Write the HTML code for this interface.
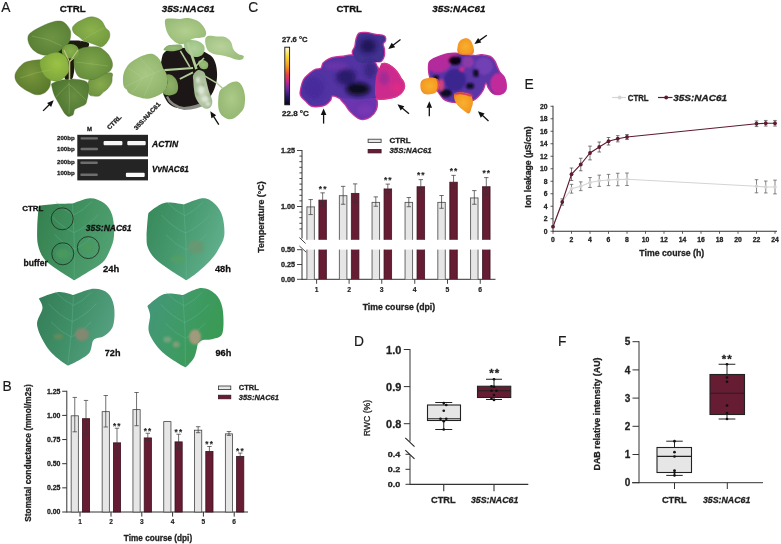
<!DOCTYPE html>
<html><head><meta charset="utf-8"><style>
html,body{margin:0;padding:0;background:#fff;}
svg{display:block;font-family:"Liberation Sans", sans-serif;will-change:transform;filter:blur(0.25px);}
</style></head><body>
<svg width="781" height="544" viewBox="0 0 781 544">
<rect width="781" height="544" fill="#fff"/>
<defs><filter id="soft" x="-5%" y="-5%" width="110%" height="110%"><feGaussianBlur stdDeviation="0.45"/></filter></defs>
<text x="1.2" y="11.8" font-size="13.8" font-weight="normal" font-style="normal" text-anchor="start" fill="#1a1a1a" stroke="#1a1a1a" stroke-width="0.15" >A</text>
<text x="72.7" y="12.0" font-size="9.8" font-weight="bold" font-style="normal" text-anchor="middle" fill="#111" stroke="#111" stroke-width="0.28" textLength="26" lengthAdjust="spacingAndGlyphs" >CTRL</text>
<text x="188.2" y="12.3" font-size="9.8" font-weight="bold" font-style="italic" text-anchor="middle" fill="#111" stroke="#111" stroke-width="0.28" textLength="53" lengthAdjust="spacingAndGlyphs" >35S:NAC61</text>
<g filter="url(#soft)">
<path d="M54.0,45.0 C54.8,42.8 59.0,42.2 62.0,41.5 C65.0,40.8 68.7,40.6 72.0,40.5 C75.3,40.4 79.2,40.5 82.0,41.0 C84.8,41.5 88.3,42.0 89.0,43.5 C89.7,45.0 88.2,47.6 86.0,50.0 C83.8,52.4 78.0,54.3 76.0,58.0 C74.0,61.7 74.7,68.5 74.0,72.0 C73.3,75.5 73.3,77.7 72.0,79.0 C70.7,80.3 67.7,81.5 66.0,80.0 C64.3,78.5 63.5,74.2 62.0,70.0 C60.5,65.8 58.3,59.2 57.0,55.0 C55.7,50.8 53.2,47.2 54.0,45.0Z" fill="#1a1c10"/>
<defs><radialGradient id="g1" cx="0.55" cy="0.5" r="0.6"><stop offset="0" stop-color="#6e9444"/><stop offset="1" stop-color="#587e34"/></radialGradient></defs>
<path d="M28.2,35.8 C28.9,33.8 30.7,32.6 33.0,31.0 C35.3,29.4 39.3,27.6 41.8,26.3 C44.3,25.1 45.4,24.4 48.0,23.5 C50.6,22.6 54.6,21.1 57.4,21.0 C60.1,20.9 62.3,21.0 64.5,22.7 C66.7,24.4 69.7,27.9 70.5,31.1 C71.3,34.3 70.5,39.0 69.3,41.8 C68.1,44.6 65.7,45.8 63.3,47.8 C60.9,49.8 58.4,52.6 55.0,53.8 C51.6,55.0 46.6,55.6 43.0,55.0 C39.4,54.4 35.9,52.2 33.5,50.2 C31.1,48.2 29.6,45.4 28.7,43.0 C27.8,40.6 27.5,37.8 28.2,35.8Z" fill="url(#g1)" stroke="#4e6e2a" stroke-width="0.6" stroke-opacity="0.6"/>
<defs><radialGradient id="g2" cx="0.5" cy="0.45" r="0.6"><stop offset="0" stop-color="#8cb24c"/><stop offset="1" stop-color="#719a3e"/></radialGradient></defs>
<path d="M72.4,27.9 C72.7,26.3 74.2,24.8 75.9,23.4 C77.6,22.0 80.5,20.6 82.8,19.5 C85.1,18.4 87.6,17.3 89.8,17.0 C92.0,16.7 93.7,16.8 95.7,17.5 C97.7,18.2 100.0,19.3 101.7,21.0 C103.4,22.7 104.5,26.2 105.7,27.9 C107.0,29.6 108.5,29.9 109.2,31.4 C109.9,32.9 110.1,34.9 109.7,36.8 C109.3,38.7 108.0,41.1 106.7,42.8 C105.4,44.5 103.2,46.3 101.7,46.8 C100.2,47.3 99.7,46.5 97.7,45.8 C95.7,45.1 92.1,43.6 89.8,42.8 C87.5,42.0 85.6,41.8 83.8,40.8 C82.0,39.8 80.6,38.1 78.9,36.8 C77.2,35.5 75.0,34.4 73.9,32.9 C72.8,31.4 72.1,29.5 72.4,27.9Z" fill="url(#g2)" stroke="#4e6e2a" stroke-width="0.6" stroke-opacity="0.6"/>
<defs><radialGradient id="g3" cx="0.5" cy="0.5" r="0.6"><stop offset="0" stop-color="#86aa4c"/><stop offset="1" stop-color="#6c9240"/></radialGradient></defs>
<path d="M89.0,80.0 C90.9,76.7 96.2,75.2 100.0,74.0 C103.8,72.8 109.6,72.3 111.6,73.0 C113.6,73.7 112.1,76.4 112.1,78.0 C112.1,79.6 112.3,81.0 111.6,82.8 C110.9,84.6 109.2,87.1 107.7,88.8 C106.2,90.5 104.0,91.6 102.7,92.8 C101.4,94.0 101.0,95.1 99.7,95.7 C98.4,96.3 96.6,96.5 94.8,96.2 C93.0,95.9 89.8,96.5 88.8,93.8 C87.8,91.1 87.1,83.3 89.0,80.0Z" fill="url(#g3)" stroke="#4e6e2a" stroke-width="0.6" stroke-opacity="0.6"/>
<defs><radialGradient id="g4" cx="0.45" cy="0.5" r="0.6"><stop offset="0" stop-color="#7ea44a"/><stop offset="1" stop-color="#628a3a"/></radialGradient></defs>
<path d="M75.5,51.7 C76.8,50.0 79.7,48.8 82.0,48.0 C84.3,47.2 86.7,47.0 89.4,46.8 C92.1,46.6 95.7,46.5 98.0,47.0 C100.3,47.5 101.6,48.5 103.3,49.7 C105.0,50.9 106.6,52.3 108.0,54.0 C109.4,55.7 110.8,58.0 111.6,60.0 C112.3,62.0 112.8,64.2 112.5,66.0 C112.2,67.8 111.2,69.7 110.0,71.0 C108.8,72.3 107.1,72.6 105.3,73.6 C103.5,74.6 101.0,76.0 99.0,77.0 C97.0,78.0 95.7,79.2 93.4,79.5 C91.1,79.8 87.6,79.6 85.0,79.0 C82.4,78.4 79.8,77.9 78.0,76.0 C76.2,74.1 75.2,70.6 74.5,67.6 C73.8,64.6 73.8,60.6 74.0,58.0 C74.2,55.4 74.2,53.4 75.5,51.7Z" fill="url(#g4)" stroke="#4e6e2a" stroke-width="0.6" stroke-opacity="0.6"/>
<defs><radialGradient id="g5" cx="0.45" cy="0.4" r="0.6"><stop offset="0" stop-color="#78963c"/><stop offset="1" stop-color="#5a7a2c"/></radialGradient></defs>
<path d="M15.0,74.9 C15.3,72.9 16.5,70.9 18.0,68.9 C19.5,66.9 21.9,64.3 23.9,63.0 C25.9,61.7 27.8,61.5 29.9,61.0 C32.0,60.5 34.4,60.1 36.8,60.0 C39.1,59.9 41.8,59.5 44.0,60.5 C46.2,61.5 48.8,64.1 50.0,66.0 C51.2,67.9 51.4,69.7 51.5,72.0 C51.6,74.3 51.0,77.4 50.7,79.9 C50.4,82.4 50.7,84.7 49.7,86.8 C48.7,88.9 46.9,91.5 44.8,92.8 C42.6,94.1 39.4,95.0 36.8,94.8 C34.1,94.6 31.5,93.1 28.9,91.8 C26.2,90.5 23.0,88.6 20.9,86.8 C18.8,85.0 17.0,82.9 16.0,80.9 C15.0,78.9 14.7,76.9 15.0,74.9Z" fill="url(#g5)" stroke="#4e6e2a" stroke-width="0.6" stroke-opacity="0.6"/>
<defs><radialGradient id="g6" cx="0.6" cy="0.45" r="0.6"><stop offset="0" stop-color="#688e42"/><stop offset="1" stop-color="#4e7430"/></radialGradient></defs>
<path d="M51.4,84.0 C51.5,83.7 54.2,82.2 56.0,81.5 C57.8,80.8 59.7,80.4 62.0,80.0 C64.3,79.6 67.3,79.1 70.0,79.0 C72.7,78.9 75.3,79.1 78.0,79.5 C80.7,79.9 84.2,80.4 86.0,81.5 C87.8,82.6 88.2,83.8 88.5,86.0 C88.8,88.2 88.3,92.3 88.1,94.5 C87.9,96.7 87.7,97.3 87.2,98.9 C86.8,100.5 86.6,102.9 85.4,104.2 C84.2,105.5 81.9,106.0 80.1,106.9 C78.3,107.8 76.0,108.2 74.8,109.5 C73.6,110.8 74.1,113.6 73.1,114.8 C72.1,116.0 68.9,116.6 68.7,116.6 C68.5,116.6 66.4,115.6 65.1,114.0 C63.8,112.4 62.0,109.1 60.7,106.9 C59.4,104.7 58.4,102.9 57.2,100.7 C56.0,98.5 54.7,96.5 53.7,93.7 C52.7,90.9 51.3,84.3 51.4,84.0Z" fill="url(#g6)" stroke="#4e6e2a" stroke-width="0.6" stroke-opacity="0.6"/>
<defs><radialGradient id="g7" cx="0.5" cy="0.5" r="0.6"><stop offset="0" stop-color="#88b04c"/><stop offset="1" stop-color="#6e9a3e"/></radialGradient></defs>
<path d="M62.0,49.0 C62.6,47.5 64.5,45.8 66.0,45.0 C67.5,44.2 69.2,43.8 71.0,44.0 C72.8,44.2 75.2,44.8 76.5,46.0 C77.8,47.2 78.8,49.2 79.0,51.0 C79.2,52.8 78.8,55.7 77.5,57.0 C76.2,58.3 73.1,58.6 71.0,58.6 C68.9,58.6 66.4,57.8 65.0,57.0 C63.6,56.2 63.0,55.3 62.5,54.0 C62.0,52.7 61.4,50.5 62.0,49.0Z" fill="url(#g7)" />
<defs><radialGradient id="g8" cx="0.6" cy="0.4" r="0.6"><stop offset="0" stop-color="#9cc246"/><stop offset="1" stop-color="#7ea83c"/></radialGradient></defs>
<path d="M39.8,61.6 C40.4,59.8 42.4,58.3 44.0,57.0 C45.6,55.7 47.9,54.5 49.7,53.7 C51.5,53.0 53.4,52.7 55.0,52.5 C56.6,52.3 58.0,52.2 59.6,52.7 C61.2,53.2 63.3,54.3 64.6,55.5 C65.9,56.7 66.9,58.1 67.6,59.7 C68.3,61.3 68.4,63.0 68.6,65.0 C68.8,67.0 69.1,69.8 68.6,71.6 C68.1,73.4 66.8,74.7 65.6,76.0 C64.4,77.3 63.1,78.7 61.6,79.5 C60.1,80.3 58.4,80.8 56.7,81.0 C55.1,81.2 53.4,81.0 51.7,80.5 C50.1,80.0 48.3,79.2 46.8,78.0 C45.3,76.8 43.8,75.3 42.8,73.6 C41.8,71.9 41.0,70.0 40.5,68.0 C40.0,66.0 39.2,63.4 39.8,61.6Z" fill="url(#g8)" stroke="#5e7e30" stroke-width="0.6" stroke-opacity="0.6"/>
<line x1="69.5" y1="62" x2="64" y2="50" stroke="#c0c478" stroke-width="1.2"/>
<line x1="69.5" y1="62" x2="78" y2="50" stroke="#c0c478" stroke-width="1.2"/>
<line x1="69.5" y1="80" x2="69.5" y2="62" stroke="#c0c478" stroke-width="1.6"/>
<line x1="69.5" y1="62" x2="74" y2="58" stroke="#c0c478" stroke-width="1"/>
<path d="M69,82 Q70,98 69,114" stroke="#a8c870" stroke-width="0.7" fill="none" opacity="0.45"/>
<path d="M69,84 Q78,92 86,100" stroke="#a8c870" stroke-width="0.7" fill="none" opacity="0.45"/>
<path d="M69,84 Q62,90 56,97" stroke="#a8c870" stroke-width="0.7" fill="none" opacity="0.45"/>
<path d="M76,62 Q92,64 108,66" stroke="#a8c870" stroke-width="0.7" fill="none" opacity="0.45"/>
<path d="M50,70 Q36,72 20,78" stroke="#a8c870" stroke-width="0.7" fill="none" opacity="0.45"/>
<path d="M62,46 Q48,38 32,36" stroke="#a8c870" stroke-width="0.7" fill="none" opacity="0.45"/>
<path d="M80,42 Q90,34 104,28" stroke="#a8c870" stroke-width="0.7" fill="none" opacity="0.45"/>
</g>
<line x1="43.1" y1="110.9" x2="49.457359312880726" y2="104.54264068711927" stroke="#111" stroke-width="1.3"/>
<path d="M53.7,100.3 L51.1,106.9 L47.1,102.9Z" fill="#111"/>
<g filter="url(#soft)">
<path d="M161.7,58.9 C162.3,56.0 162.7,54.4 164.1,52.8 C165.5,51.2 167.2,50.3 170.2,49.5 C173.2,48.7 177.7,48.2 182.0,48.0 C186.3,47.8 191.3,47.3 196.0,48.5 C200.7,49.7 207.1,53.0 210.3,55.3 C213.5,57.6 214.1,59.7 215.2,62.5 C216.3,65.3 216.8,69.0 217.0,72.3 C217.2,75.5 217.1,78.7 216.4,82.0 C215.7,85.3 214.7,88.7 213.0,92.0 C211.3,95.3 208.8,99.5 206.0,102.0 C203.2,104.5 199.7,105.8 196.0,107.0 C192.3,108.2 188.0,109.2 184.0,109.0 C180.0,108.8 175.2,107.8 172.0,106.0 C168.8,104.2 166.8,101.5 165.0,98.0 C163.2,94.5 161.8,89.7 161.0,85.0 C160.2,80.3 160.4,74.3 160.5,70.0 C160.6,65.7 161.1,61.8 161.7,58.9Z" fill="#1c1812"/>
<path d="M166,97 Q170,107 184,110 Q198,109.5 207,104 L205,101 Q196,106 184,107 Q172,105 168,96Z" fill="#8a8a84"/>
<defs><radialGradient id="g9" cx="0.5" cy="0.5" r="0.6"><stop offset="0" stop-color="#b2cf8e"/><stop offset="1" stop-color="#98ba76"/></radialGradient></defs>
<path d="M165.3,19.5 C166.3,17.8 169.6,18.6 172.0,18.5 C174.4,18.4 177.1,18.9 180.0,18.9 C182.9,18.8 186.7,17.8 189.7,18.2 C192.7,18.6 196.0,20.0 198.2,21.3 C200.4,22.6 201.8,24.3 203.1,26.1 C204.4,27.9 205.8,30.5 206.1,32.2 C206.4,33.9 205.8,35.6 204.9,36.5 C204.0,37.4 202.3,37.4 200.6,37.7 C198.9,38.0 196.7,37.8 194.6,38.3 C192.5,38.8 190.1,40.0 188.0,41.0 C185.9,42.0 184.5,44.1 182.3,44.3 C180.1,44.4 177.2,43.3 175.0,41.9 C172.8,40.5 170.5,38.0 169.0,35.8 C167.5,33.6 166.5,31.3 165.9,28.6 C165.3,25.9 164.3,21.2 165.3,19.5Z" fill="url(#g9)" />
<defs><radialGradient id="g10" cx="0.5" cy="0.5" r="0.6"><stop offset="0" stop-color="#b0d09a"/><stop offset="1" stop-color="#98c080"/></radialGradient></defs>
<path d="M184.3,41.5 C185.5,40.0 189.4,39.9 192.0,40.0 C194.6,40.1 197.9,40.8 200.0,42.0 C202.1,43.2 204.0,45.0 204.5,47.0 C205.0,49.0 204.2,52.3 203.0,54.0 C201.8,55.7 199.2,56.8 197.0,57.0 C194.8,57.2 192.0,56.3 190.0,55.0 C188.0,53.7 185.9,51.2 185.0,49.0 C184.1,46.8 183.1,43.0 184.3,41.5Z" fill="url(#g10)" />
<defs><radialGradient id="g11" cx="0.4" cy="0.45" r="0.6"><stop offset="0" stop-color="#b8d29a"/><stop offset="1" stop-color="#9cbe7e"/></radialGradient></defs>
<path d="M205.5,38.3 C206.1,36.9 207.3,36.1 209.1,35.8 C210.9,35.5 213.8,36.3 216.4,36.5 C219.0,36.7 222.5,36.2 224.9,37.1 C227.3,38.0 229.6,39.9 231.0,41.9 C232.4,43.9 232.2,47.2 233.4,49.2 C234.6,51.2 236.6,52.9 238.3,54.0 C240.0,55.1 243.1,55.0 243.7,55.9 C244.3,56.8 243.2,58.9 241.9,59.5 C240.6,60.1 238.0,59.9 235.8,59.5 C233.6,59.1 230.9,57.8 228.5,57.1 C226.1,56.4 223.7,55.8 221.3,55.3 C218.9,54.8 216.2,54.8 214.0,54.0 C211.8,53.2 209.3,52.0 207.9,50.4 C206.5,48.8 205.9,46.3 205.5,44.3 C205.1,42.3 204.9,39.7 205.5,38.3Z" fill="url(#g11)" />
<defs><radialGradient id="g12" cx="0.5" cy="0.5" r="0.6"><stop offset="0" stop-color="#98bc78"/><stop offset="1" stop-color="#84a866"/></radialGradient></defs>
<path d="M163.5,49.8 C163.5,48.9 165.9,46.4 167.8,45.6 C169.7,44.8 172.8,44.9 175.0,44.8 C177.2,44.7 179.9,44.3 181.1,44.9 C182.3,45.5 183.3,47.6 182.3,48.6 C181.3,49.6 177.4,50.6 175.0,51.0 C172.6,51.4 169.9,51.2 168.0,51.0 C166.1,50.8 163.5,50.7 163.5,49.8Z" fill="url(#g12)" />
<defs><radialGradient id="g13" cx="0.5" cy="0.45" r="0.6"><stop offset="0" stop-color="#a8c882"/><stop offset="1" stop-color="#8eb26a"/></radialGradient></defs>
<path d="M163.2,68.4 C163.0,68.1 161.4,62.2 160.0,60.0 C158.6,57.8 156.6,56.0 155.0,55.0 C153.4,54.0 152.3,53.6 150.3,53.7 C148.3,53.8 145.4,54.6 143.0,55.5 C140.6,56.4 138.3,57.6 136.0,59.0 C133.7,60.4 130.9,62.0 129.0,64.0 C127.1,66.0 125.5,68.7 124.5,71.0 C123.5,73.3 123.1,75.5 123.0,78.0 C122.9,80.5 123.0,84.3 123.7,86.3 C124.4,88.3 126.9,89.8 127.0,90.0 C127.1,90.2 127.4,92.0 129.2,93.2 C131.0,94.4 134.9,96.1 138.0,97.0 C141.1,97.9 144.4,98.9 147.6,98.7 C150.8,98.5 154.1,97.4 157.0,96.0 C159.9,94.6 163.2,92.7 165.0,90.4 C166.8,88.1 167.2,84.7 167.5,82.0 C167.8,79.3 167.2,76.3 166.5,74.0 C165.8,71.7 163.4,68.8 163.2,68.4Z" fill="url(#g13)" />
<path d="M164,69 Q145,76 125,87" stroke="#c4dab0" stroke-width="0.6" fill="none" opacity="0.4"/>
<path d="M154,73 Q146,66 140,58" stroke="#c4dab0" stroke-width="0.6" fill="none" opacity="0.4"/>
<path d="M143,78 Q135,72 128,68" stroke="#c4dab0" stroke-width="0.6" fill="none" opacity="0.4"/>
<path d="M154,73 Q150,84 144,96" stroke="#c4dab0" stroke-width="0.6" fill="none" opacity="0.4"/>
<path d="M143,78 Q138,86 132,93" stroke="#c4dab0" stroke-width="0.6" fill="none" opacity="0.4"/>
<defs><radialGradient id="g14" cx="0.5" cy="0.5" r="0.6"><stop offset="0" stop-color="#90b068"/><stop offset="1" stop-color="#789c54"/></radialGradient></defs>
<path d="M166.5,74.9 C167.2,73.7 169.8,74.1 171.4,74.9 C173.0,75.7 175.2,77.7 176.3,79.7 C177.4,81.7 178.1,84.8 178.1,87.0 C178.1,89.2 177.8,91.7 176.3,93.1 C174.8,94.5 171.2,95.5 169.0,95.5 C166.8,95.5 163.4,94.3 162.9,93.1 C162.4,91.8 165.2,89.8 166.0,88.0 C166.8,86.2 167.4,84.2 167.5,82.0 C167.6,79.8 165.8,76.1 166.5,74.9Z" fill="url(#g14)" />
<defs><radialGradient id="g15" cx="0.5" cy="0.5" r="0.6"><stop offset="0" stop-color="#9cc07c"/><stop offset="1" stop-color="#86ac66"/></radialGradient></defs>
<path d="M198.2,62.0 C198.5,60.6 201.4,59.9 203.0,60.1 C204.6,60.3 207.2,61.6 207.9,63.0 C208.6,64.4 208.2,67.7 207.0,68.6 C205.8,69.5 202.5,69.7 201.0,68.6 C199.5,67.5 197.9,63.4 198.2,62.0Z" fill="url(#g15)" />
<defs><radialGradient id="g16" cx="0.5" cy="0.45" r="0.6"><stop offset="0" stop-color="#acca88"/><stop offset="1" stop-color="#92b670"/></radialGradient></defs>
<path d="M220.0,90.6 C221.3,88.2 224.1,87.2 226.1,85.8 C228.1,84.4 230.2,82.7 232.2,82.1 C234.2,81.5 236.6,81.3 238.3,82.1 C240.0,82.9 241.4,84.8 242.5,87.0 C243.6,89.2 244.6,92.3 244.9,95.5 C245.2,98.7 245.0,103.6 244.3,106.4 C243.6,109.2 242.3,110.6 240.7,112.5 C239.1,114.4 236.6,116.8 234.6,117.9 C232.6,119.0 230.5,119.5 228.5,119.2 C226.5,118.9 224.1,117.6 222.5,116.1 C220.9,114.6 219.5,112.6 218.8,110.0 C218.1,107.4 218.0,103.5 218.2,100.3 C218.4,97.1 218.7,93.0 220.0,90.6Z" fill="url(#g16)" />
<line x1="193" y1="68" x2="164.4" y2="70.2" stroke="#b2cc9a" stroke-width="2.2"/>
<line x1="196.4" y1="69" x2="187.6" y2="42.6" stroke="#b2cc9a" stroke-width="2.6"/>
<line x1="189.8" y1="66.9" x2="180.4" y2="50.9" stroke="#b2cc9a" stroke-width="1.6"/>
<line x1="193" y1="72.4" x2="179.8" y2="79" stroke="#b2cc9a" stroke-width="1.8"/>
<line x1="198.6" y1="72.4" x2="217.3" y2="83.4" stroke="#b2cc9a" stroke-width="1.6"/>
<line x1="217.3" y1="83.4" x2="222.5" y2="88.2" stroke="#b2cc9a" stroke-width="1.4"/>
<line x1="196" y1="66" x2="204" y2="58" stroke="#b2cc9a" stroke-width="1.6"/>
<defs><radialGradient id="g17" cx="0.5" cy="0.6" r="0.6"><stop offset="0" stop-color="#c6d4b8"/><stop offset="1" stop-color="#9cb48c"/></radialGradient></defs>
<path d="M193.3,74.9 C194.1,73.1 196.4,70.4 198.2,70.0 C200.0,69.6 203.0,70.8 204.3,72.4 C205.6,74.0 205.3,76.5 206.1,79.7 C206.9,82.9 208.1,88.4 209.1,91.8 C210.1,95.2 211.9,97.9 212.2,100.3 C212.5,102.7 212.0,105.0 211.0,106.4 C210.0,107.8 207.8,109.0 206.1,108.8 C204.4,108.6 202.3,107.0 200.6,105.2 C198.9,103.4 196.9,100.5 195.8,97.9 C194.7,95.3 194.4,92.2 194.0,89.4 C193.6,86.6 193.4,83.3 193.3,80.9 C193.2,78.5 192.5,76.7 193.3,74.9Z" fill="url(#g17)" />
<g filter="url(#bl1)">
<ellipse cx="201" cy="90" rx="3" ry="4" fill="#e2eadc" opacity="0.85"/>
<ellipse cx="205" cy="99" rx="3.5" ry="3" fill="#e2eadc" opacity="0.85"/>
<ellipse cx="208" cy="104" rx="2.5" ry="2" fill="#e2eadc" opacity="0.85"/>
<ellipse cx="198" cy="80" rx="2" ry="3" fill="#e2eadc" opacity="0.85"/>
<ellipse cx="197" cy="94" rx="1.5" ry="2" fill="#8aa07a" opacity="0.8"/>
<ellipse cx="203" cy="85" rx="1.5" ry="1.5" fill="#8aa07a" opacity="0.8"/>
<ellipse cx="209" cy="96" rx="1.2" ry="2" fill="#8aa07a" opacity="0.8"/>
</g>
</g>
<line x1="218.8" y1="124.6" x2="213.53108546803674" y2="116.35569843822216" stroke="#111" stroke-width="1.3"/>
<path d="M210.3,111.3 L216.2,115.3 L211.4,118.3Z" fill="#111"/>
<rect x="77.30" y="134.80" width="70.70" height="21.70" fill="#242424"/>
<g filter="url(#soft)">
<rect x="80.5" y="137.2" width="17.5" height="2.3" fill="#6e6e6e" rx="1"/>
<rect x="80.5" y="147.7" width="17.5" height="2.6" fill="#6e6e6e" rx="1"/>
<rect x="103.6" y="141.1" width="18.8" height="4.1" fill="#f6f6f6" rx="1"/>
<rect x="127.3" y="141.1" width="18.4" height="4.1" fill="#f6f6f6" rx="1"/>
</g>
<rect x="77.30" y="159.20" width="70.70" height="21.20" fill="#242424"/>
<g filter="url(#soft)">
<rect x="80.3" y="161.5" width="17.5" height="2.5" fill="#6e6e6e" rx="1"/>
<rect x="80.3" y="173.4" width="17.5" height="2.6" fill="#6e6e6e" rx="1"/>
<rect x="125.9" y="172.7" width="18.8" height="4.3" fill="#fafafa" rx="1"/>
</g>
<text x="57" y="140.4" font-size="6.2" font-weight="bold" font-style="normal" text-anchor="start" fill="#222" stroke="#222" stroke-width="0.28" textLength="17.7" lengthAdjust="spacingAndGlyphs" >200bp</text>
<text x="57" y="151" font-size="6.2" font-weight="bold" font-style="normal" text-anchor="start" fill="#222" stroke="#222" stroke-width="0.28" textLength="17.7" lengthAdjust="spacingAndGlyphs" >100bp</text>
<text x="57" y="164.4" font-size="6.2" font-weight="bold" font-style="normal" text-anchor="start" fill="#222" stroke="#222" stroke-width="0.28" textLength="17.7" lengthAdjust="spacingAndGlyphs" >200bp</text>
<text x="57" y="174.9" font-size="6.2" font-weight="bold" font-style="normal" text-anchor="start" fill="#222" stroke="#222" stroke-width="0.28" textLength="17.7" lengthAdjust="spacingAndGlyphs" >100bp</text>
<text x="152" y="147.4" font-size="8.6" font-weight="bold" font-style="italic" text-anchor="start" fill="#111" stroke="#111" stroke-width="0.28" textLength="26.1" lengthAdjust="spacingAndGlyphs" >ACTIN</text>
<text x="152" y="172.3" font-size="8.6" font-weight="bold" font-style="italic" text-anchor="start" fill="#111" stroke="#111" stroke-width="0.28" textLength="36.8" lengthAdjust="spacingAndGlyphs" >VvNAC61</text>
<text x="89.4" y="131" font-size="6" font-weight="bold" font-style="normal" text-anchor="middle" fill="#222" stroke="#222" stroke-width="0.28" >M</text>
<text x="109.5" y="130" font-size="6.2" font-weight="bold" font-style="normal" text-anchor="start" fill="#222" stroke="#222" stroke-width="0.28" textLength="17.5" lengthAdjust="spacingAndGlyphs" transform="rotate(-45 109.5 130)" >CTRL</text>
<text x="136.5" y="130.5" font-size="6.2" font-weight="bold" font-style="normal" text-anchor="start" fill="#222" stroke="#222" stroke-width="0.28" textLength="35.5" lengthAdjust="spacingAndGlyphs" transform="rotate(-47 136.5 130.5)" >35S:NAC61</text>
<defs><linearGradient id="lg1" x1="0" y1="0.2" x2="1" y2="0.6"><stop offset="0" stop-color="#35804f"/><stop offset="0.45" stop-color="#40905f"/><stop offset="1" stop-color="#52a272"/></linearGradient></defs>
<g filter="url(#soft)"><path d="M38.9,206.1 C39.3,205.5 49.4,204.4 55.0,204.0 C60.6,203.6 71.6,203.6 72.5,203.5 C73.4,203.4 84.8,198.3 90.0,198.2 C95.2,198.1 100.3,200.2 104.0,203.0 C107.7,205.8 110.5,209.5 112.2,215.0 C113.9,220.5 114.4,230.2 114.0,236.0 C113.6,241.8 111.9,245.6 110.0,250.0 C108.1,254.4 106.2,258.9 102.5,262.6 C98.8,266.3 92.7,269.1 88.0,272.0 C83.3,274.9 75.0,280.2 74.2,280.2 C73.5,280.1 63.0,273.5 58.0,270.0 C53.0,266.5 47.5,263.2 44.2,259.0 C40.9,254.8 39.2,250.3 38.0,245.0 C36.8,239.7 37.1,233.8 37.2,227.3 C37.4,220.8 38.5,206.7 38.9,206.1Z" fill="url(#lg1)"/>
<path d="M72.5,204.5 Q75.35,241.75 74.2,279" stroke="#6cc0a0" stroke-width="0.8" fill="none" opacity="0.4"/>
<path d="M73.8,215.0 Q83.7,210.5 91.8,201.5" stroke="#6cc0a0" stroke-width="0.8" fill="none" opacity="0.4"/>
<path d="M73.8,215.0 Q63.9,210.5 55.8,201.5" stroke="#6cc0a0" stroke-width="0.8" fill="none" opacity="0.4"/>
<path d="M74.1,232.6 Q87.3,226.6 98.1,214.6" stroke="#6cc0a0" stroke-width="0.8" fill="none" opacity="0.4"/>
<path d="M74.1,232.6 Q60.9,226.6 50.1,214.6" stroke="#6cc0a0" stroke-width="0.8" fill="none" opacity="0.4"/>
<path d="M74.5,249.4 Q85.5,244.4 94.5,234.4" stroke="#6cc0a0" stroke-width="0.8" fill="none" opacity="0.4"/>
<path d="M74.5,249.4 Q63.5,244.4 54.5,234.4" stroke="#6cc0a0" stroke-width="0.8" fill="none" opacity="0.4"/>
<g filter="url(#bl1)">
<ellipse cx="62.8" cy="254" rx="7" ry="5" fill="#4b9a5c" opacity="0.8"/>
<ellipse cx="88.3" cy="247.6" rx="6" ry="5" fill="#4d9a5a" opacity="0.7"/>
</g></g>
<defs><linearGradient id="lg2" x1="0" y1="0.2" x2="1" y2="0.6"><stop offset="0" stop-color="#388a5c"/><stop offset="0.45" stop-color="#46996e"/><stop offset="1" stop-color="#62b08e"/></linearGradient></defs>
<g filter="url(#soft)"><path d="M148.4,213.2 C148.8,212.4 158.3,204.5 164.2,203.0 C170.1,201.5 182.6,204.5 183.6,204.4 C184.6,204.3 197.8,198.3 203.0,198.2 C208.2,198.1 211.8,200.9 215.0,204.0 C218.2,207.1 221.0,211.3 222.5,216.7 C224.0,222.0 224.9,230.5 224.2,236.1 C223.4,241.7 220.3,245.9 218.0,250.0 C215.7,254.1 213.4,257.1 210.1,260.8 C206.8,264.5 202.0,268.8 198.0,272.0 C194.0,275.2 187.0,280.2 186.3,280.2 C185.6,280.1 175.2,273.5 170.0,270.0 C164.8,266.5 159.1,262.7 155.4,259.0 C151.7,255.3 149.5,251.8 148.0,248.0 C146.5,244.2 146.5,241.9 146.6,236.1 C146.7,230.3 148.0,214.0 148.4,213.2Z" fill="url(#lg2)"/>
<path d="M183.6,205.4 Q186.95,242.2 186.3,279" stroke="#6cc0a0" stroke-width="0.8" fill="none" opacity="0.4"/>
<path d="M185.0,215.7 Q194.9,211.2 203.0,202.2" stroke="#6cc0a0" stroke-width="0.8" fill="none" opacity="0.4"/>
<path d="M185.0,215.7 Q175.1,211.2 167.0,202.2" stroke="#6cc0a0" stroke-width="0.8" fill="none" opacity="0.4"/>
<path d="M185.6,233.1 Q198.8,227.1 209.6,215.1" stroke="#6cc0a0" stroke-width="0.8" fill="none" opacity="0.4"/>
<path d="M185.6,233.1 Q172.4,227.1 161.6,215.1" stroke="#6cc0a0" stroke-width="0.8" fill="none" opacity="0.4"/>
<path d="M186.2,249.8 Q197.2,244.8 206.2,234.8" stroke="#6cc0a0" stroke-width="0.8" fill="none" opacity="0.4"/>
<path d="M186.2,249.8 Q175.2,244.8 166.2,234.8" stroke="#6cc0a0" stroke-width="0.8" fill="none" opacity="0.4"/>
<g filter="url(#bl1)">
<ellipse cx="196" cy="247" rx="8" ry="7" fill="#6c9670" opacity="0.8"/>
<ellipse cx="178" cy="259" rx="8" ry="4" fill="#55a060" opacity="0.6"/>
</g></g>
<defs><linearGradient id="lg3" x1="0" y1="0.2" x2="1" y2="0.6"><stop offset="0" stop-color="#347e58"/><stop offset="0.45" stop-color="#3f8e66"/><stop offset="1" stop-color="#56a282"/></linearGradient></defs>
<g filter="url(#soft)"><path d="M38.9,298.5 C39.3,298.1 52.6,292.6 58.4,292.0 C64.2,291.4 72.5,295.1 73.4,295.0 C74.3,294.9 87.9,289.1 93.6,288.8 C99.3,288.5 104.4,290.2 107.8,293.2 C111.2,296.1 113.1,301.1 114.0,306.5 C114.9,311.9 114.7,321.0 113.0,325.9 C111.3,330.8 107.2,333.6 104.0,336.0 C100.8,338.4 96.2,337.0 93.6,340.0 C91.0,343.0 92.6,349.8 88.3,354.1 C84.0,358.4 69.0,365.7 68.0,365.6 C67.0,365.5 54.6,357.2 49.5,350.6 C44.4,344.0 38.4,333.0 37.2,325.9 C36.0,318.8 42.2,312.8 42.5,308.2 C42.8,303.6 38.5,298.9 38.9,298.5Z" fill="url(#lg3)"/>
<path d="M73.4,296 Q72.7,330.0 68,364" stroke="#6cc0a0" stroke-width="0.8" fill="none" opacity="0.4"/>
<path d="M73.6,305.5 Q83.5,301.0 91.6,292.0" stroke="#6cc0a0" stroke-width="0.8" fill="none" opacity="0.4"/>
<path d="M73.6,305.5 Q63.7,301.0 55.6,292.0" stroke="#6cc0a0" stroke-width="0.8" fill="none" opacity="0.4"/>
<path d="M72.3,321.6 Q85.5,315.6 96.3,303.6" stroke="#6cc0a0" stroke-width="0.8" fill="none" opacity="0.4"/>
<path d="M72.3,321.6 Q59.1,315.6 48.3,303.6" stroke="#6cc0a0" stroke-width="0.8" fill="none" opacity="0.4"/>
<path d="M71.2,337.0 Q82.2,332.0 91.2,322.0" stroke="#6cc0a0" stroke-width="0.8" fill="none" opacity="0.4"/>
<path d="M71.2,337.0 Q60.2,332.0 51.2,322.0" stroke="#6cc0a0" stroke-width="0.8" fill="none" opacity="0.4"/>
<g filter="url(#bl1)">
<ellipse cx="82" cy="334.5" rx="7" ry="6.5" fill="#8a8670" opacity="0.9"/>
<ellipse cx="58.4" cy="336.6" rx="5" ry="3" fill="#6f8a5a" opacity="0.7"/>
</g></g>
<defs><linearGradient id="lg4" x1="0" y1="0.2" x2="1" y2="0.6"><stop offset="0" stop-color="#44967a"/><stop offset="0.45" stop-color="#409a66"/><stop offset="1" stop-color="#389a52"/></linearGradient></defs>
<g filter="url(#soft)"><path d="M147.5,306.1 C147.9,305.6 158.3,296.0 164.2,294.1 C170.1,292.2 181.9,295.2 182.8,295.0 C183.7,294.8 195.9,288.0 201.3,287.9 C206.7,287.8 211.9,290.7 215.4,294.1 C218.9,297.5 221.3,301.7 222.5,308.2 C223.7,314.7 224.1,327.9 222.5,333.0 C220.9,338.1 216.2,337.8 213.0,339.0 C209.8,340.2 205.5,339.2 203.0,340.0 C200.5,340.8 198.0,343.1 197.8,343.5 C197.6,343.9 196.3,353.6 194.2,357.6 C192.1,361.6 186.2,367.4 185.4,367.3 C184.6,367.2 168.5,358.0 162.5,352.3 C156.5,346.6 151.3,339.2 149.2,333.0 C147.1,326.8 150.4,319.8 150.1,315.3 C149.8,310.8 147.1,306.6 147.5,306.1Z" fill="url(#lg4)"/>
<path d="M182.8,296 Q186.10000000000002,331.0 185.4,366" stroke="#6cc0a0" stroke-width="0.8" fill="none" opacity="0.4"/>
<path d="M184.2,305.8 Q194.1,301.3 202.2,292.3" stroke="#6cc0a0" stroke-width="0.8" fill="none" opacity="0.4"/>
<path d="M184.2,305.8 Q174.3,301.3 166.2,292.3" stroke="#6cc0a0" stroke-width="0.8" fill="none" opacity="0.4"/>
<path d="M184.8,322.4 Q198.0,316.4 208.8,304.4" stroke="#6cc0a0" stroke-width="0.8" fill="none" opacity="0.4"/>
<path d="M184.8,322.4 Q171.6,316.4 160.8,304.4" stroke="#6cc0a0" stroke-width="0.8" fill="none" opacity="0.4"/>
<path d="M185.4,338.2 Q196.4,333.2 205.4,323.2" stroke="#6cc0a0" stroke-width="0.8" fill="none" opacity="0.4"/>
<path d="M185.4,338.2 Q174.4,333.2 165.4,323.2" stroke="#6cc0a0" stroke-width="0.8" fill="none" opacity="0.4"/>
<g filter="url(#bl1)">
<ellipse cx="195" cy="337" rx="6" ry="7.5" fill="#a89a7c" opacity="0.95"/>
<ellipse cx="167.4" cy="339.4" rx="4" ry="3" fill="#8aa888" opacity="0.7"/>
<ellipse cx="176.2" cy="344.4" rx="3.5" ry="3" fill="#98a080" opacity="0.7"/>
</g></g>
<circle cx="62.2" cy="218.8" r="11" fill="none" stroke="#1a2a1a" stroke-width="0.8"/>
<circle cx="62.8" cy="253.8" r="11" fill="none" stroke="#1a2a1a" stroke-width="0.8"/>
<circle cx="88.3" cy="247.6" r="11" fill="none" stroke="#1a2a1a" stroke-width="0.8"/>
<text x="22.2" y="211" font-size="8.1" font-weight="bold" font-style="normal" text-anchor="start" fill="#111" stroke="#111" stroke-width="0.28" textLength="21.2" lengthAdjust="spacingAndGlyphs" >CTRL</text>
<text x="85.7" y="230.5" font-size="8.5" font-weight="bold" font-style="italic" text-anchor="start" fill="#111" stroke="#111" stroke-width="0.28" textLength="45.9" lengthAdjust="spacingAndGlyphs" >35S:NAC61</text>
<text x="23.6" y="265.8" font-size="8.6" font-weight="bold" font-style="normal" text-anchor="start" fill="#111" stroke="#111" stroke-width="0.28" textLength="24.2" lengthAdjust="spacingAndGlyphs" >buffer</text>
<text x="103" y="272.3" font-size="9.4" font-weight="bold" font-style="normal" text-anchor="start" fill="#111" stroke="#111" stroke-width="0.28" textLength="16.2" lengthAdjust="spacingAndGlyphs" >24h</text>
<text x="214.9" y="271.8" font-size="9.4" font-weight="bold" font-style="normal" text-anchor="start" fill="#111" stroke="#111" stroke-width="0.28" textLength="16.1" lengthAdjust="spacingAndGlyphs" >48h</text>
<text x="104.8" y="355.5" font-size="9.4" font-weight="bold" font-style="normal" text-anchor="start" fill="#111" stroke="#111" stroke-width="0.28" textLength="15.7" lengthAdjust="spacingAndGlyphs" >72h</text>
<text x="215.4" y="355.5" font-size="9.4" font-weight="bold" font-style="normal" text-anchor="start" fill="#111" stroke="#111" stroke-width="0.28" textLength="15.9" lengthAdjust="spacingAndGlyphs" >96h</text>
<text x="2.5" y="390.5" font-size="13.8" font-weight="normal" font-style="normal" text-anchor="start" fill="#1a1a1a" stroke="#1a1a1a" stroke-width="0.15" >B</text>
<line x1="66.8" y1="390.75" x2="66.8" y2="512.5" stroke="#333" stroke-width="1"/>
<line x1="66.8" y1="512.0" x2="248" y2="512.0" stroke="#333" stroke-width="1"/>
<line x1="62.199999999999996" y1="391.25" x2="66.8" y2="391.25" stroke="#333" stroke-width="1"/>
<text x="60.4" y="393.55" font-size="6.6" font-weight="bold" font-style="normal" text-anchor="end" fill="#222" stroke="#222" stroke-width="0.28" textLength="13.5" lengthAdjust="spacingAndGlyphs" >1.25</text>
<line x1="62.199999999999996" y1="415.4" x2="66.8" y2="415.4" stroke="#333" stroke-width="1"/>
<text x="60.4" y="417.7" font-size="6.6" font-weight="bold" font-style="normal" text-anchor="end" fill="#222" stroke="#222" stroke-width="0.28" textLength="13.5" lengthAdjust="spacingAndGlyphs" >1.00</text>
<line x1="62.199999999999996" y1="439.55" x2="66.8" y2="439.55" stroke="#333" stroke-width="1"/>
<text x="60.4" y="441.85" font-size="6.6" font-weight="bold" font-style="normal" text-anchor="end" fill="#222" stroke="#222" stroke-width="0.28" textLength="13.5" lengthAdjust="spacingAndGlyphs" >0.75</text>
<line x1="62.199999999999996" y1="463.7" x2="66.8" y2="463.7" stroke="#333" stroke-width="1"/>
<text x="60.4" y="466.0" font-size="6.6" font-weight="bold" font-style="normal" text-anchor="end" fill="#222" stroke="#222" stroke-width="0.28" textLength="13.5" lengthAdjust="spacingAndGlyphs" >0.50</text>
<line x1="62.199999999999996" y1="487.85" x2="66.8" y2="487.85" stroke="#333" stroke-width="1"/>
<text x="60.4" y="490.15000000000003" font-size="6.6" font-weight="bold" font-style="normal" text-anchor="end" fill="#222" stroke="#222" stroke-width="0.28" textLength="13.5" lengthAdjust="spacingAndGlyphs" >0.25</text>
<line x1="62.199999999999996" y1="512.0" x2="66.8" y2="512.0" stroke="#333" stroke-width="1"/>
<text x="60.4" y="514.3" font-size="6.6" font-weight="bold" font-style="normal" text-anchor="end" fill="#222" stroke="#222" stroke-width="0.28" textLength="13.5" lengthAdjust="spacingAndGlyphs" >0.00</text>
<line x1="80" y1="512.0" x2="80" y2="516.6" stroke="#333" stroke-width="1"/>
<text x="80" y="524.3" font-size="6.6" font-weight="bold" font-style="normal" text-anchor="middle" fill="#222" stroke="#222" stroke-width="0.15" >1</text>
<rect x="71.15" y="415.80" width="7.20" height="96.20" fill="#e6e6e6" stroke="#444" stroke-width="0.8"/>
<line x1="74.75" y1="397.43240000000003" x2="74.75" y2="431.822" stroke="#333" stroke-width="0.7"/>
<line x1="72.55" y1="397.43240000000003" x2="76.95" y2="397.43240000000003" stroke="#333" stroke-width="0.7"/>
<line x1="72.55" y1="431.822" x2="76.95" y2="431.822" stroke="#333" stroke-width="0.7"/>
<rect x="82.40" y="418.70" width="7.20" height="93.30" fill="#661c33" stroke="#3c1020" stroke-width="0.8"/>
<line x1="86" y1="400.427" x2="86" y2="435.00980000000004" stroke="#333" stroke-width="0.7"/>
<line x1="83.8" y1="400.427" x2="88.2" y2="400.427" stroke="#333" stroke-width="0.7"/>
<line x1="83.8" y1="435.00980000000004" x2="88.2" y2="435.00980000000004" stroke="#333" stroke-width="0.7"/>
<line x1="111" y1="512.0" x2="111" y2="516.6" stroke="#333" stroke-width="1"/>
<text x="111" y="524.3" font-size="6.6" font-weight="bold" font-style="normal" text-anchor="middle" fill="#222" stroke="#222" stroke-width="0.15" >2</text>
<rect x="102.15" y="411.65" width="7.20" height="100.35" fill="#e6e6e6" stroke="#444" stroke-width="0.8"/>
<line x1="105.75" y1="395.5004" x2="105.75" y2="426.992" stroke="#333" stroke-width="0.7"/>
<line x1="103.55" y1="395.5004" x2="107.95" y2="395.5004" stroke="#333" stroke-width="0.7"/>
<line x1="103.55" y1="426.992" x2="107.95" y2="426.992" stroke="#333" stroke-width="0.7"/>
<rect x="113.40" y="442.85" width="7.20" height="69.15" fill="#661c33" stroke="#3c1020" stroke-width="0.8"/>
<line x1="117" y1="428.2478" x2="117" y2="457.5176" stroke="#333" stroke-width="0.7"/>
<line x1="114.8" y1="428.2478" x2="119.2" y2="428.2478" stroke="#333" stroke-width="0.7"/>
<line x1="114.8" y1="457.5176" x2="119.2" y2="457.5176" stroke="#333" stroke-width="0.7"/>
<text x="117.3" y="429.0478" font-size="8.2" font-weight="bold" font-style="normal" text-anchor="middle" fill="#222" stroke="#222" stroke-width="0.1" letter-spacing="1.2">**</text>
<line x1="141.8" y1="512.0" x2="141.8" y2="516.6" stroke="#333" stroke-width="1"/>
<text x="141.8" y="524.3" font-size="6.6" font-weight="bold" font-style="normal" text-anchor="middle" fill="#222" stroke="#222" stroke-width="0.15" >3</text>
<rect x="132.95" y="409.62" width="7.20" height="102.38" fill="#e6e6e6" stroke="#444" stroke-width="0.8"/>
<line x1="136.55" y1="392.5058" x2="136.55" y2="425.7362" stroke="#333" stroke-width="0.7"/>
<line x1="134.35000000000002" y1="392.5058" x2="138.75" y2="392.5058" stroke="#333" stroke-width="0.7"/>
<line x1="134.35000000000002" y1="425.7362" x2="138.75" y2="425.7362" stroke="#333" stroke-width="0.7"/>
<rect x="144.20" y="437.92" width="7.20" height="74.08" fill="#661c33" stroke="#3c1020" stroke-width="0.8"/>
<line x1="147.8" y1="433.271" x2="147.8" y2="440.4194" stroke="#333" stroke-width="0.7"/>
<line x1="145.60000000000002" y1="433.271" x2="150.0" y2="433.271" stroke="#333" stroke-width="0.7"/>
<line x1="145.60000000000002" y1="440.4194" x2="150.0" y2="440.4194" stroke="#333" stroke-width="0.7"/>
<text x="148.10000000000002" y="434.071" font-size="8.2" font-weight="bold" font-style="normal" text-anchor="middle" fill="#222" stroke="#222" stroke-width="0.1" letter-spacing="1.2">**</text>
<line x1="172.6" y1="512.0" x2="172.6" y2="516.6" stroke="#333" stroke-width="1"/>
<text x="172.6" y="524.3" font-size="6.6" font-weight="bold" font-style="normal" text-anchor="middle" fill="#222" stroke="#222" stroke-width="0.15" >4</text>
<rect x="163.75" y="421.60" width="7.20" height="90.40" fill="#e6e6e6" stroke="#444" stroke-width="0.8"/>
<rect x="175.00" y="441.88" width="7.20" height="70.12" fill="#661c33" stroke="#3c1020" stroke-width="0.8"/>
<line x1="178.6" y1="434.237" x2="178.6" y2="448.5338" stroke="#333" stroke-width="0.7"/>
<line x1="176.4" y1="434.237" x2="180.79999999999998" y2="434.237" stroke="#333" stroke-width="0.7"/>
<line x1="176.4" y1="448.5338" x2="180.79999999999998" y2="448.5338" stroke="#333" stroke-width="0.7"/>
<text x="178.9" y="435.03700000000003" font-size="8.2" font-weight="bold" font-style="normal" text-anchor="middle" fill="#222" stroke="#222" stroke-width="0.1" letter-spacing="1.2">**</text>
<line x1="203.4" y1="512.0" x2="203.4" y2="516.6" stroke="#333" stroke-width="1"/>
<text x="203.4" y="524.3" font-size="6.6" font-weight="bold" font-style="normal" text-anchor="middle" fill="#222" stroke="#222" stroke-width="0.15" >5</text>
<rect x="194.55" y="430.19" width="7.20" height="81.81" fill="#e6e6e6" stroke="#444" stroke-width="0.8"/>
<line x1="198.15" y1="426.7022" x2="198.15" y2="432.69140000000004" stroke="#333" stroke-width="0.7"/>
<line x1="195.95000000000002" y1="426.7022" x2="200.35" y2="426.7022" stroke="#333" stroke-width="0.7"/>
<line x1="195.95000000000002" y1="432.69140000000004" x2="200.35" y2="432.69140000000004" stroke="#333" stroke-width="0.7"/>
<rect x="205.80" y="451.45" width="7.20" height="60.55" fill="#661c33" stroke="#3c1020" stroke-width="0.8"/>
<line x1="209.4" y1="446.5052" x2="209.4" y2="455.48900000000003" stroke="#333" stroke-width="0.7"/>
<line x1="207.20000000000002" y1="446.5052" x2="211.6" y2="446.5052" stroke="#333" stroke-width="0.7"/>
<line x1="207.20000000000002" y1="455.48900000000003" x2="211.6" y2="455.48900000000003" stroke="#333" stroke-width="0.7"/>
<text x="209.70000000000002" y="447.3052" font-size="8.2" font-weight="bold" font-style="normal" text-anchor="middle" fill="#222" stroke="#222" stroke-width="0.1" letter-spacing="1.2">**</text>
<line x1="234.2" y1="512.0" x2="234.2" y2="516.6" stroke="#333" stroke-width="1"/>
<text x="234.2" y="524.3" font-size="6.6" font-weight="bold" font-style="normal" text-anchor="middle" fill="#222" stroke="#222" stroke-width="0.15" >6</text>
<rect x="225.35" y="433.86" width="7.20" height="78.14" fill="#e6e6e6" stroke="#444" stroke-width="0.8"/>
<line x1="228.95" y1="431.5322" x2="228.95" y2="435.3962" stroke="#333" stroke-width="0.7"/>
<line x1="226.75" y1="431.5322" x2="231.14999999999998" y2="431.5322" stroke="#333" stroke-width="0.7"/>
<line x1="226.75" y1="435.3962" x2="231.14999999999998" y2="435.3962" stroke="#333" stroke-width="0.7"/>
<rect x="236.60" y="456.37" width="7.20" height="55.63" fill="#661c33" stroke="#3c1020" stroke-width="0.8"/>
<line x1="240.2" y1="453.074" x2="240.2" y2="458.387" stroke="#333" stroke-width="0.7"/>
<line x1="238.0" y1="453.074" x2="242.39999999999998" y2="453.074" stroke="#333" stroke-width="0.7"/>
<line x1="238.0" y1="458.387" x2="242.39999999999998" y2="458.387" stroke="#333" stroke-width="0.7"/>
<text x="240.5" y="453.874" font-size="8.2" font-weight="bold" font-style="normal" text-anchor="middle" fill="#222" stroke="#222" stroke-width="0.1" letter-spacing="1.2">**</text>
<text x="31.4" y="453" font-size="8.6" font-weight="bold" font-style="normal" text-anchor="middle" fill="#222" stroke="#222" stroke-width="0.28" textLength="137.5" lengthAdjust="spacingAndGlyphs" transform="rotate(-90 31.4 453)" >Stomatal conductance (mmol/m2s)</text>
<text x="158" y="540.6" font-size="8.3" font-weight="bold" font-style="normal" text-anchor="middle" fill="#222" stroke="#222" stroke-width="0.28" textLength="68.3" lengthAdjust="spacingAndGlyphs" >Time course (dpi)</text>
<rect x="218.50" y="386.00" width="12.30" height="3.60" fill="#e6e6e6" stroke="#333" stroke-width="0.8"/>
<rect x="218.50" y="395.20" width="12.30" height="3.60" fill="#661c33" stroke="#3c1020" stroke-width="0.8"/>
<text x="238.8" y="390.3" font-size="7.5" font-weight="bold" font-style="normal" text-anchor="start" fill="#222" stroke="#222" stroke-width="0.28" textLength="20" lengthAdjust="spacingAndGlyphs" >CTRL</text>
<text x="238.8" y="399.7" font-size="7.6" font-weight="bold" font-style="italic" text-anchor="start" fill="#222" stroke="#222" stroke-width="0.28" textLength="40" lengthAdjust="spacingAndGlyphs" >35S:NAC61</text>
<text x="248.3" y="11.9" font-size="13.8" font-weight="normal" font-style="normal" text-anchor="start" fill="#1a1a1a" stroke="#1a1a1a" stroke-width="0.15" >C</text>
<text x="349.2" y="11.8" font-size="9.8" font-weight="bold" font-style="normal" text-anchor="middle" fill="#111" stroke="#111" stroke-width="0.28" textLength="25.5" lengthAdjust="spacingAndGlyphs" >CTRL</text>
<text x="458.8" y="12.0" font-size="9.8" font-weight="bold" font-style="italic" text-anchor="middle" fill="#111" stroke="#111" stroke-width="0.28" textLength="53.2" lengthAdjust="spacingAndGlyphs" >35S:NAC61</text>
<defs><linearGradient id="cb" x1="0" y1="0" x2="0" y2="1"><stop offset="0" stop-color="#fffbe4"/><stop offset="0.14" stop-color="#f8e040"/><stop offset="0.32" stop-color="#f4a020"/><stop offset="0.47" stop-color="#e8463c"/><stop offset="0.58" stop-color="#cc2a86"/><stop offset="0.72" stop-color="#7028a0"/><stop offset="0.86" stop-color="#281660"/><stop offset="1" stop-color="#080616"/></linearGradient></defs>
<rect x="284.80" y="47.20" width="4.80" height="57.60" fill="url(#cb)" stroke="#111" stroke-width="0.9"/>
<text x="282" y="42.3" font-size="7.3" font-weight="bold" font-style="normal" text-anchor="start" fill="#222" stroke="#222" stroke-width="0.28" textLength="25.5" lengthAdjust="spacingAndGlyphs" >27.6 °C</text>
<text x="282" y="115.9" font-size="7.3" font-weight="bold" font-style="normal" text-anchor="start" fill="#222" stroke="#222" stroke-width="0.28" textLength="26.8" lengthAdjust="spacingAndGlyphs" >22.8 °C</text>
<defs><filter id="bl" x="-30%" y="-30%" width="160%" height="160%"><feGaussianBlur stdDeviation="2.2"/></filter><filter id="bl1" x="-30%" y="-30%" width="160%" height="160%"><feGaussianBlur stdDeviation="1.2"/></filter><filter id="th" x="-10%" y="-10%" width="120%" height="120%"><feGaussianBlur stdDeviation="0.5"/></filter></defs>
<g filter="url(#th)">
<path d="M301.5,88.0 C302.0,85.5 302.9,82.1 304.0,80.0 C305.1,77.9 306.3,77.0 308.1,75.4 C309.9,73.8 312.5,71.5 314.7,70.4 C316.9,69.3 319.9,70.0 321.4,68.8 C322.9,67.6 322.3,64.9 323.6,63.3 C324.9,61.7 327.1,60.4 329.1,59.4 C331.1,58.4 333.3,57.9 335.7,57.5 C338.1,57.1 340.8,57.2 343.4,56.9 C346.0,56.6 347.5,55.5 351.1,55.6 C354.7,55.7 361.4,56.6 365.0,57.5 C368.6,58.4 371.2,59.8 373.0,61.0 C374.8,62.2 375.1,63.2 376.0,65.0 C376.9,66.8 377.8,68.7 378.5,72.0 C379.2,75.3 380.1,81.0 380.0,85.0 C379.9,89.0 379.7,93.5 378.0,96.0 C376.3,98.5 373.0,99.2 370.0,100.0 C367.0,100.8 363.7,101.0 360.0,101.0 C356.3,101.0 351.3,100.5 348.0,100.0 C344.7,99.5 342.4,98.5 340.3,97.8 C338.2,97.1 336.6,96.0 335.1,95.7 C333.6,95.4 332.4,95.0 331.5,95.7 C330.6,96.4 331.1,98.4 330.0,99.9 C328.9,101.4 326.7,103.5 324.8,104.5 C322.9,105.5 320.9,105.8 318.7,106.0 C316.5,106.2 313.5,106.3 311.4,105.5 C309.3,104.7 308.0,102.7 306.3,100.9 C304.6,99.2 301.8,97.2 301.0,95.0 C300.2,92.8 301.0,90.5 301.5,88.0Z" fill="#c8349a" stroke="#c8349a" stroke-width="2.6" stroke-linejoin="round"/>
<path d="M359.3,33.7 C360.8,32.7 362.9,32.9 365.7,33.1 C368.5,33.3 373.0,34.5 376.0,35.0 C379.0,35.5 382.3,35.4 383.8,36.3 C385.3,37.2 385.2,38.9 385.0,40.2 C384.8,41.5 382.7,42.5 382.5,44.0 C382.3,45.5 383.6,47.3 383.8,49.2 C384.0,51.1 384.2,53.7 383.8,55.6 C383.4,57.5 382.3,59.6 381.2,60.7 C380.1,61.8 378.6,61.8 377.3,62.0 C376.0,62.2 375.4,61.8 373.5,62.0 C371.6,62.2 368.6,63.0 366.0,63.0 C363.4,63.0 360.0,63.0 358.0,62.0 C356.0,61.0 355.1,58.7 354.2,57.0 C353.3,55.3 352.7,53.4 352.9,51.7 C353.1,50.0 354.8,48.7 355.4,46.6 C356.0,44.5 356.0,41.0 356.7,38.9 C357.4,36.8 357.8,34.7 359.3,33.7Z" fill="#c8349a" stroke="#c8349a" stroke-width="2.6" stroke-linejoin="round"/>
<path d="M340.3,97.8 C340.7,96.9 344.7,98.2 348.0,98.5 C351.3,98.8 356.0,99.6 360.0,99.5 C364.0,99.4 369.3,97.9 372.0,98.0 C374.7,98.1 375.8,98.3 376.4,100.3 C377.0,102.3 376.6,107.2 375.5,109.9 C374.4,112.6 371.8,115.1 369.7,116.6 C367.6,118.1 364.9,118.8 362.9,118.9 C360.9,119.0 359.9,118.7 357.8,117.4 C355.8,116.1 352.7,113.4 350.6,111.2 C348.5,109.0 347.1,106.2 345.4,104.0 C343.7,101.8 339.9,98.7 340.3,97.8Z" fill="#c8349a" stroke="#c8349a" stroke-width="2.6" stroke-linejoin="round"/>
<path d="M380.5,65.5 C382.1,63.9 384.2,64.0 386.0,64.3 C387.8,64.6 389.7,65.9 391.5,67.2 C393.3,68.5 395.1,70.4 396.6,72.3 C398.1,74.2 399.4,77.1 400.5,78.8 C401.6,80.5 402.6,81.1 403.1,82.6 C403.6,84.1 404.1,86.1 403.7,87.8 C403.3,89.5 402.0,91.5 400.5,92.9 C399.0,94.4 397.5,95.6 394.6,96.5 C391.7,97.4 386.2,98.2 383.1,98.4 C380.0,98.6 377.4,99.2 376.0,97.5 C374.6,95.8 374.9,91.9 375.0,88.0 C375.1,84.1 375.6,77.8 376.5,74.0 C377.4,70.2 378.9,67.1 380.5,65.5Z" fill="#c8349a" stroke="#c8349a" stroke-width="2.6" stroke-linejoin="round"/>
<path d="M380.5,65.5 C382.1,63.9 384.2,64.0 386.0,64.3 C387.8,64.6 389.7,65.9 391.5,67.2 C393.3,68.5 395.1,70.4 396.6,72.3 C398.1,74.2 399.4,77.1 400.5,78.8 C401.6,80.5 402.6,81.1 403.1,82.6 C403.6,84.1 404.1,86.1 403.7,87.8 C403.3,89.5 402.0,91.5 400.5,92.9 C399.0,94.4 397.5,95.6 394.6,96.5 C391.7,97.4 386.2,98.2 383.1,98.4 C380.0,98.6 377.4,99.2 376.0,97.5 C374.6,95.8 374.9,91.9 375.0,88.0 C375.1,84.1 375.6,77.8 376.5,74.0 C377.4,70.2 378.9,67.1 380.5,65.5Z" fill="#e0368a" stroke="#e0368a" stroke-width="2.6" stroke-linejoin="round"/>
<clipPath id="tcc"><path d="M301.5,88.0 C302.0,85.5 302.9,82.1 304.0,80.0 C305.1,77.9 306.3,77.0 308.1,75.4 C309.9,73.8 312.5,71.5 314.7,70.4 C316.9,69.3 319.9,70.0 321.4,68.8 C322.9,67.6 322.3,64.9 323.6,63.3 C324.9,61.7 327.1,60.4 329.1,59.4 C331.1,58.4 333.3,57.9 335.7,57.5 C338.1,57.1 340.8,57.2 343.4,56.9 C346.0,56.6 347.5,55.5 351.1,55.6 C354.7,55.7 361.4,56.6 365.0,57.5 C368.6,58.4 371.2,59.8 373.0,61.0 C374.8,62.2 375.1,63.2 376.0,65.0 C376.9,66.8 377.8,68.7 378.5,72.0 C379.2,75.3 380.1,81.0 380.0,85.0 C379.9,89.0 379.7,93.5 378.0,96.0 C376.3,98.5 373.0,99.2 370.0,100.0 C367.0,100.8 363.7,101.0 360.0,101.0 C356.3,101.0 351.3,100.5 348.0,100.0 C344.7,99.5 342.4,98.5 340.3,97.8 C338.2,97.1 336.6,96.0 335.1,95.7 C333.6,95.4 332.4,95.0 331.5,95.7 C330.6,96.4 331.1,98.4 330.0,99.9 C328.9,101.4 326.7,103.5 324.8,104.5 C322.9,105.5 320.9,105.8 318.7,106.0 C316.5,106.2 313.5,106.3 311.4,105.5 C309.3,104.7 308.0,102.7 306.3,100.9 C304.6,99.2 301.8,97.2 301.0,95.0 C300.2,92.8 301.0,90.5 301.5,88.0Z"/><path d="M359.3,33.7 C360.8,32.7 362.9,32.9 365.7,33.1 C368.5,33.3 373.0,34.5 376.0,35.0 C379.0,35.5 382.3,35.4 383.8,36.3 C385.3,37.2 385.2,38.9 385.0,40.2 C384.8,41.5 382.7,42.5 382.5,44.0 C382.3,45.5 383.6,47.3 383.8,49.2 C384.0,51.1 384.2,53.7 383.8,55.6 C383.4,57.5 382.3,59.6 381.2,60.7 C380.1,61.8 378.6,61.8 377.3,62.0 C376.0,62.2 375.4,61.8 373.5,62.0 C371.6,62.2 368.6,63.0 366.0,63.0 C363.4,63.0 360.0,63.0 358.0,62.0 C356.0,61.0 355.1,58.7 354.2,57.0 C353.3,55.3 352.7,53.4 352.9,51.7 C353.1,50.0 354.8,48.7 355.4,46.6 C356.0,44.5 356.0,41.0 356.7,38.9 C357.4,36.8 357.8,34.7 359.3,33.7Z"/><path d="M340.3,97.8 C340.7,96.9 344.7,98.2 348.0,98.5 C351.3,98.8 356.0,99.6 360.0,99.5 C364.0,99.4 369.3,97.9 372.0,98.0 C374.7,98.1 375.8,98.3 376.4,100.3 C377.0,102.3 376.6,107.2 375.5,109.9 C374.4,112.6 371.8,115.1 369.7,116.6 C367.6,118.1 364.9,118.8 362.9,118.9 C360.9,119.0 359.9,118.7 357.8,117.4 C355.8,116.1 352.7,113.4 350.6,111.2 C348.5,109.0 347.1,106.2 345.4,104.0 C343.7,101.8 339.9,98.7 340.3,97.8Z"/><path d="M380.5,65.5 C382.1,63.9 384.2,64.0 386.0,64.3 C387.8,64.6 389.7,65.9 391.5,67.2 C393.3,68.5 395.1,70.4 396.6,72.3 C398.1,74.2 399.4,77.1 400.5,78.8 C401.6,80.5 402.6,81.1 403.1,82.6 C403.6,84.1 404.1,86.1 403.7,87.8 C403.3,89.5 402.0,91.5 400.5,92.9 C399.0,94.4 397.5,95.6 394.6,96.5 C391.7,97.4 386.2,98.2 383.1,98.4 C380.0,98.6 377.4,99.2 376.0,97.5 C374.6,95.8 374.9,91.9 375.0,88.0 C375.1,84.1 375.6,77.8 376.5,74.0 C377.4,70.2 378.9,67.1 380.5,65.5Z"/></clipPath>
<path d="M301.5,88.0 C302.0,85.5 302.9,82.1 304.0,80.0 C305.1,77.9 306.3,77.0 308.1,75.4 C309.9,73.8 312.5,71.5 314.7,70.4 C316.9,69.3 319.9,70.0 321.4,68.8 C322.9,67.6 322.3,64.9 323.6,63.3 C324.9,61.7 327.1,60.4 329.1,59.4 C331.1,58.4 333.3,57.9 335.7,57.5 C338.1,57.1 340.8,57.2 343.4,56.9 C346.0,56.6 347.5,55.5 351.1,55.6 C354.7,55.7 361.4,56.6 365.0,57.5 C368.6,58.4 371.2,59.8 373.0,61.0 C374.8,62.2 375.1,63.2 376.0,65.0 C376.9,66.8 377.8,68.7 378.5,72.0 C379.2,75.3 380.1,81.0 380.0,85.0 C379.9,89.0 379.7,93.5 378.0,96.0 C376.3,98.5 373.0,99.2 370.0,100.0 C367.0,100.8 363.7,101.0 360.0,101.0 C356.3,101.0 351.3,100.5 348.0,100.0 C344.7,99.5 342.4,98.5 340.3,97.8 C338.2,97.1 336.6,96.0 335.1,95.7 C333.6,95.4 332.4,95.0 331.5,95.7 C330.6,96.4 331.1,98.4 330.0,99.9 C328.9,101.4 326.7,103.5 324.8,104.5 C322.9,105.5 320.9,105.8 318.7,106.0 C316.5,106.2 313.5,106.3 311.4,105.5 C309.3,104.7 308.0,102.7 306.3,100.9 C304.6,99.2 301.8,97.2 301.0,95.0 C300.2,92.8 301.0,90.5 301.5,88.0Z" fill="#5232a2"/>
<path d="M359.3,33.7 C360.8,32.7 362.9,32.9 365.7,33.1 C368.5,33.3 373.0,34.5 376.0,35.0 C379.0,35.5 382.3,35.4 383.8,36.3 C385.3,37.2 385.2,38.9 385.0,40.2 C384.8,41.5 382.7,42.5 382.5,44.0 C382.3,45.5 383.6,47.3 383.8,49.2 C384.0,51.1 384.2,53.7 383.8,55.6 C383.4,57.5 382.3,59.6 381.2,60.7 C380.1,61.8 378.6,61.8 377.3,62.0 C376.0,62.2 375.4,61.8 373.5,62.0 C371.6,62.2 368.6,63.0 366.0,63.0 C363.4,63.0 360.0,63.0 358.0,62.0 C356.0,61.0 355.1,58.7 354.2,57.0 C353.3,55.3 352.7,53.4 352.9,51.7 C353.1,50.0 354.8,48.7 355.4,46.6 C356.0,44.5 356.0,41.0 356.7,38.9 C357.4,36.8 357.8,34.7 359.3,33.7Z" fill="#40308e"/>
<path d="M340.3,97.8 C340.7,96.9 344.7,98.2 348.0,98.5 C351.3,98.8 356.0,99.6 360.0,99.5 C364.0,99.4 369.3,97.9 372.0,98.0 C374.7,98.1 375.8,98.3 376.4,100.3 C377.0,102.3 376.6,107.2 375.5,109.9 C374.4,112.6 371.8,115.1 369.7,116.6 C367.6,118.1 364.9,118.8 362.9,118.9 C360.9,119.0 359.9,118.7 357.8,117.4 C355.8,116.1 352.7,113.4 350.6,111.2 C348.5,109.0 347.1,106.2 345.4,104.0 C343.7,101.8 339.9,98.7 340.3,97.8Z" fill="#6a34ae"/>
<path d="M380.5,65.5 C382.1,63.9 384.2,64.0 386.0,64.3 C387.8,64.6 389.7,65.9 391.5,67.2 C393.3,68.5 395.1,70.4 396.6,72.3 C398.1,74.2 399.4,77.1 400.5,78.8 C401.6,80.5 402.6,81.1 403.1,82.6 C403.6,84.1 404.1,86.1 403.7,87.8 C403.3,89.5 402.0,91.5 400.5,92.9 C399.0,94.4 397.5,95.6 394.6,96.5 C391.7,97.4 386.2,98.2 383.1,98.4 C380.0,98.6 377.4,99.2 376.0,97.5 C374.6,95.8 374.9,91.9 375.0,88.0 C375.1,84.1 375.6,77.8 376.5,74.0 C377.4,70.2 378.9,67.1 380.5,65.5Z" fill="#cc2c8c"/>
<g clip-path="url(#tcc)"><g filter="url(#bl)"><ellipse cx="314" cy="88" rx="10" ry="11" fill="#482c9c"/><ellipse cx="358" cy="89" rx="12" ry="6.5" fill="#0c0820"/><ellipse cx="346" cy="77" rx="10" ry="8" fill="#2c1c6c"/><ellipse cx="336" cy="66" rx="12" ry="4" fill="#6a34aa"/><ellipse cx="368" cy="46" rx="8" ry="7" fill="#22185c"/><ellipse cx="370" cy="70" rx="6" ry="8" fill="#3a2682"/><ellipse cx="384" cy="78" rx="5" ry="7" fill="#a02c96"/><ellipse cx="397" cy="88" rx="5" ry="4" fill="#e22c86"/><ellipse cx="365" cy="110" rx="7" ry="5" fill="#7a38b4"/></g></g>
</g>
<path d="M376.2,62.3 L381.5,62.8 L379.2,68.2Z" fill="#fff"/>
<g filter="url(#th)">
<clipPath id="tnc"><path d="M429.3,62.0 C430.2,60.1 431.9,59.7 433.7,58.7 C435.5,57.7 438.0,56.7 440.4,55.9 C442.8,55.1 445.5,54.2 448.1,53.7 C450.7,53.2 453.0,53.1 455.8,53.2 C458.6,53.3 461.8,54.1 465.0,54.5 C468.2,54.9 472.6,55.6 475.3,55.6 C478.1,55.6 479.0,54.6 481.5,54.7 C484.0,54.9 488.1,55.5 490.3,56.5 C492.5,57.5 493.5,59.1 494.7,60.9 C495.9,62.7 496.5,65.2 497.4,67.1 C498.3,69.0 498.8,70.7 500.0,72.4 C501.2,74.2 503.4,75.5 504.4,77.6 C505.4,79.6 506.0,82.5 506.2,84.7 C506.4,86.9 506.3,89.3 505.3,90.9 C504.3,92.5 502.1,94.0 500.0,94.4 C497.9,94.8 494.8,94.5 492.9,93.5 C491.0,92.5 489.7,90.0 488.5,88.2 C487.3,86.4 486.8,82.6 485.9,82.9 C485.0,83.2 484.5,87.6 483.2,90.0 C481.9,92.4 479.7,95.3 477.9,97.1 C476.1,98.9 474.8,99.8 472.6,100.6 C470.5,101.4 468.2,101.7 465.0,102.0 C461.8,102.3 456.4,102.5 453.6,102.4 C450.8,102.3 449.8,101.8 448.1,101.3 C446.5,100.8 445.2,100.4 443.7,99.1 C442.2,97.8 440.9,95.8 439.3,93.6 C437.7,91.4 435.6,88.6 434.0,86.0 C432.4,83.4 430.9,80.7 430.0,78.0 C429.1,75.3 428.6,72.7 428.5,70.0 C428.4,67.3 428.4,63.9 429.3,62.0Z"/></clipPath>
<path d="M429.3,62.0 C430.2,60.1 431.9,59.7 433.7,58.7 C435.5,57.7 438.0,56.7 440.4,55.9 C442.8,55.1 445.5,54.2 448.1,53.7 C450.7,53.2 453.0,53.1 455.8,53.2 C458.6,53.3 461.8,54.1 465.0,54.5 C468.2,54.9 472.6,55.6 475.3,55.6 C478.1,55.6 479.0,54.6 481.5,54.7 C484.0,54.9 488.1,55.5 490.3,56.5 C492.5,57.5 493.5,59.1 494.7,60.9 C495.9,62.7 496.5,65.2 497.4,67.1 C498.3,69.0 498.8,70.7 500.0,72.4 C501.2,74.2 503.4,75.5 504.4,77.6 C505.4,79.6 506.0,82.5 506.2,84.7 C506.4,86.9 506.3,89.3 505.3,90.9 C504.3,92.5 502.1,94.0 500.0,94.4 C497.9,94.8 494.8,94.5 492.9,93.5 C491.0,92.5 489.7,90.0 488.5,88.2 C487.3,86.4 486.8,82.6 485.9,82.9 C485.0,83.2 484.5,87.6 483.2,90.0 C481.9,92.4 479.7,95.3 477.9,97.1 C476.1,98.9 474.8,99.8 472.6,100.6 C470.5,101.4 468.2,101.7 465.0,102.0 C461.8,102.3 456.4,102.5 453.6,102.4 C450.8,102.3 449.8,101.8 448.1,101.3 C446.5,100.8 445.2,100.4 443.7,99.1 C442.2,97.8 440.9,95.8 439.3,93.6 C437.7,91.4 435.6,88.6 434.0,86.0 C432.4,83.4 430.9,80.7 430.0,78.0 C429.1,75.3 428.6,72.7 428.5,70.0 C428.4,67.3 428.4,63.9 429.3,62.0Z" fill="#5a34a6" stroke="#c0309a" stroke-width="1.4"/>
<g clip-path="url(#tnc)"><g filter="url(#bl1)"><ellipse cx="499" cy="84" rx="9" ry="11" fill="#c22c9c"/><ellipse cx="438" cy="64" rx="12" ry="9" fill="#b22a9c"/><ellipse cx="448" cy="56" rx="10" ry="4" fill="#b82a98"/><ellipse cx="484" cy="66" rx="9" ry="9" fill="#7040b4"/><ellipse cx="455" cy="80" rx="11" ry="11" fill="#3a2690"/><ellipse cx="468" cy="62" rx="6" ry="6" fill="#8a3aa8"/><ellipse cx="455" cy="60.5" rx="6.5" ry="4.5" fill="#0a0618"/><ellipse cx="446" cy="93" rx="6" ry="4" fill="#0e0822"/><ellipse cx="470" cy="86" rx="4" ry="3" fill="#100828"/><ellipse cx="476" cy="73" rx="3" ry="4" fill="#120a2a"/><ellipse cx="436" cy="78" rx="3" ry="3" fill="#120a2a"/><ellipse cx="462" cy="69" rx="2.5" ry="2.5" fill="#d02a8a"/><ellipse cx="465" cy="96" rx="8" ry="3" fill="#d03a70"/><ellipse cx="441" cy="85" rx="3" ry="6" fill="#d04080"/></g></g>
</g>
<defs><radialGradient id="og" cx="0.5" cy="0.5" r="0.6"><stop offset="0" stop-color="#f8b030"/><stop offset="0.75" stop-color="#f49a20"/><stop offset="1" stop-color="#ec7a28"/></radialGradient></defs>
<g filter="url(#th)">
<path d="M457.5,47.6 C457.7,46.1 457.9,44.1 458.6,42.7 C459.4,41.3 460.6,40.0 462.0,39.3 C463.4,38.5 465.4,38.0 466.8,38.2 C468.2,38.4 469.6,39.4 470.6,40.5 C471.6,41.6 472.2,43.2 472.8,45.0 C473.4,46.8 474.1,49.5 474.0,51.0 C473.9,52.5 473.4,53.6 472.0,54.2 C470.6,54.8 467.8,54.7 465.7,54.7 C463.6,54.7 461.1,54.7 459.7,54.2 C458.3,53.7 457.9,52.6 457.5,51.5 C457.1,50.4 457.3,49.1 457.5,47.6Z" fill="url(#og)"/>
<path d="M420.5,83.6 C420.8,81.8 421.6,80.7 422.7,79.8 C423.8,78.9 425.5,78.7 427.1,78.3 C428.8,77.9 431.0,77.4 432.6,77.6 C434.2,77.8 435.9,78.0 437.0,79.2 C438.1,80.4 439.3,82.7 439.3,84.7 C439.3,86.7 438.3,89.8 437.0,91.4 C435.7,93.0 433.5,93.6 431.5,94.1 C429.5,94.5 426.6,94.7 424.9,94.1 C423.2,93.5 421.8,92.0 421.1,90.3 C420.4,88.5 420.2,85.3 420.5,83.6Z" fill="url(#og)"/>
<path d="M454.1,98.0 C453.9,96.5 453.9,94.5 454.7,93.6 C455.5,92.7 457.3,92.6 459.1,92.5 C460.9,92.4 463.7,92.5 465.7,93.0 C467.7,93.5 470.0,94.2 471.2,95.8 C472.4,97.4 472.9,100.2 472.9,102.4 C472.9,104.6 471.8,107.2 471.2,109.0 C470.6,110.8 470.1,113.0 469.0,113.4 C467.9,113.8 466.2,112.3 464.6,111.2 C463.0,110.1 460.6,108.3 459.1,106.8 C457.6,105.3 456.6,103.9 455.8,102.4 C455.0,100.9 454.3,99.5 454.1,98.0Z" fill="url(#og)"/>
<path d="M437,79 Q440,85 437,91" stroke="#e04a5a" stroke-width="1.6" fill="none"/>
<path d="M455,94 Q463,92 471,96" stroke="#e23a5a" stroke-width="1.6" fill="none"/>
</g>
<line x1="400.5" y1="39.5" x2="393.0528459566903" y2="45.2379711481239" stroke="#111" stroke-width="1.3"/>
<path d="M388.3,48.9 L391.7,42.7 L395.2,47.2Z" fill="#111"/>
<line x1="409" y1="113.7" x2="402.12577050976256" y2="108.02128868197775" stroke="#111" stroke-width="1.3"/>
<path d="M397.5,104.2 L404.3,106.2 L400.7,110.5Z" fill="#111"/>
<line x1="323.6" y1="123.6" x2="323.6" y2="114.6" stroke="#111" stroke-width="1.3"/>
<path d="M323.6,108.6 L326.4,115.1 L320.8,115.1Z" fill="#111"/>
<line x1="486.8" y1="35.3" x2="479.2930428684113" y2="40.627517964353274" stroke="#111" stroke-width="1.3"/>
<path d="M474.4,44.1 L478.1,38.1 L481.3,42.6Z" fill="#111"/>
<line x1="429.3" y1="116.2" x2="429.3" y2="107.3" stroke="#111" stroke-width="1.3"/>
<path d="M429.3,101.3 L432.1,107.8 L426.5,107.8Z" fill="#111"/>
<line x1="488.5" y1="120.9" x2="482.3263899590694" y2="115.25056439650692" stroke="#111" stroke-width="1.3"/>
<path d="M477.9,111.2 L484.6,113.5 L480.8,117.7Z" fill="#111"/>
<line x1="302.0" y1="150.0" x2="302.0" y2="238.6" stroke="#333" stroke-width="1"/>
<line x1="302.0" y1="249.6" x2="302.0" y2="279.8" stroke="#333" stroke-width="1"/>
<line x1="302.0" y1="279.3" x2="495.5" y2="279.3" stroke="#333" stroke-width="1"/>
<line x1="297.0" y1="206.5" x2="302.0" y2="206.5" stroke="#333" stroke-width="0.9"/>
<line x1="299.4" y1="200.90000000000003" x2="302.0" y2="200.90000000000003" stroke="#333" stroke-width="0.9"/>
<line x1="299.4" y1="195.29999999999998" x2="302.0" y2="195.29999999999998" stroke="#333" stroke-width="0.9"/>
<line x1="299.4" y1="189.70000000000002" x2="302.0" y2="189.70000000000002" stroke="#333" stroke-width="0.9"/>
<line x1="299.4" y1="184.09999999999997" x2="302.0" y2="184.09999999999997" stroke="#333" stroke-width="0.9"/>
<line x1="299.4" y1="178.5" x2="302.0" y2="178.5" stroke="#333" stroke-width="0.9"/>
<line x1="299.4" y1="172.90000000000003" x2="302.0" y2="172.90000000000003" stroke="#333" stroke-width="0.9"/>
<line x1="299.4" y1="167.29999999999998" x2="302.0" y2="167.29999999999998" stroke="#333" stroke-width="0.9"/>
<line x1="299.4" y1="161.70000000000002" x2="302.0" y2="161.70000000000002" stroke="#333" stroke-width="0.9"/>
<line x1="299.4" y1="156.09999999999997" x2="302.0" y2="156.09999999999997" stroke="#333" stroke-width="0.9"/>
<line x1="297.0" y1="150.5" x2="302.0" y2="150.5" stroke="#333" stroke-width="0.9"/>
<line x1="299.4" y1="212.1" x2="302.0" y2="212.1" stroke="#333" stroke-width="0.9"/>
<line x1="299.4" y1="217.70000000000002" x2="302.0" y2="217.70000000000002" stroke="#333" stroke-width="0.9"/>
<line x1="299.4" y1="223.29999999999998" x2="302.0" y2="223.29999999999998" stroke="#333" stroke-width="0.9"/>
<line x1="299.4" y1="228.9" x2="302.0" y2="228.9" stroke="#333" stroke-width="0.9"/>
<line x1="297.0" y1="249.70000000000002" x2="302.0" y2="249.70000000000002" stroke="#333" stroke-width="0.9"/>
<line x1="297.0" y1="264.5" x2="302.0" y2="264.5" stroke="#333" stroke-width="0.9"/>
<line x1="297.0" y1="279.3" x2="302.0" y2="279.3" stroke="#333" stroke-width="0.9"/>
<line x1="299.4" y1="237.5" x2="305.6" y2="243.5" stroke="#333" stroke-width="0.9"/>
<line x1="299.4" y1="246" x2="306.3" y2="252.3" stroke="#333" stroke-width="0.9"/>
<text x="295.0" y="152.8" font-size="6.8" font-weight="bold" font-style="normal" text-anchor="end" fill="#222" stroke="#222" stroke-width="0.28" textLength="14" lengthAdjust="spacingAndGlyphs" >1.25</text>
<text x="295.0" y="208.8" font-size="6.8" font-weight="bold" font-style="normal" text-anchor="end" fill="#222" stroke="#222" stroke-width="0.28" textLength="14" lengthAdjust="spacingAndGlyphs" >1.00</text>
<text x="295.0" y="252.00000000000003" font-size="6.8" font-weight="bold" font-style="normal" text-anchor="end" fill="#222" stroke="#222" stroke-width="0.28" textLength="14" lengthAdjust="spacingAndGlyphs" >0.50</text>
<text x="295.0" y="266.8" font-size="6.8" font-weight="bold" font-style="normal" text-anchor="end" fill="#222" stroke="#222" stroke-width="0.28" textLength="14" lengthAdjust="spacingAndGlyphs" >0.25</text>
<text x="295.0" y="281.6" font-size="6.8" font-weight="bold" font-style="normal" text-anchor="end" fill="#222" stroke="#222" stroke-width="0.28" textLength="14" lengthAdjust="spacingAndGlyphs" >0.00</text>
<line x1="316.6" y1="279.3" x2="316.6" y2="283.8" stroke="#333" stroke-width="0.9"/>
<text x="316.6" y="292.3" font-size="6.8" font-weight="bold" font-style="normal" text-anchor="middle" fill="#222" stroke="#222" stroke-width="0.18" >1</text>
<rect x="306.90" y="206.90" width="7.50" height="32.90" fill="#e6e6e6"/>
<rect x="306.90" y="249.60" width="7.50" height="29.70" fill="#e6e6e6"/>
<line x1="306.9" y1="206.5" x2="306.9" y2="239.8" stroke="#444" stroke-width="0.8"/>
<line x1="306.9" y1="249.6" x2="306.9" y2="279.3" stroke="#444" stroke-width="0.8"/>
<line x1="314.4" y1="206.5" x2="314.4" y2="239.8" stroke="#444" stroke-width="0.8"/>
<line x1="314.4" y1="249.6" x2="314.4" y2="279.3" stroke="#444" stroke-width="0.8"/>
<line x1="306.9" y1="206.9" x2="314.4" y2="206.9" stroke="#444" stroke-width="0.8"/>
<line x1="310.65" y1="199.556" x2="310.65" y2="214.56400000000002" stroke="#333" stroke-width="0.7"/>
<line x1="308.45" y1="199.556" x2="312.84999999999997" y2="199.556" stroke="#333" stroke-width="0.7"/>
<line x1="308.45" y1="214.56400000000002" x2="312.84999999999997" y2="214.56400000000002" stroke="#333" stroke-width="0.7"/>
<rect x="318.90" y="200.18" width="7.50" height="39.62" fill="#661c33"/>
<rect x="318.90" y="249.60" width="7.50" height="29.70" fill="#661c33"/>
<line x1="318.9" y1="199.78" x2="318.9" y2="239.8" stroke="#3a1020" stroke-width="0.8"/>
<line x1="318.9" y1="249.6" x2="318.9" y2="279.3" stroke="#3a1020" stroke-width="0.8"/>
<line x1="326.4" y1="199.78" x2="326.4" y2="239.8" stroke="#3a1020" stroke-width="0.8"/>
<line x1="326.4" y1="249.6" x2="326.4" y2="279.3" stroke="#3a1020" stroke-width="0.8"/>
<line x1="318.9" y1="200.18" x2="326.4" y2="200.18" stroke="#3a1020" stroke-width="0.8"/>
<line x1="322.65" y1="192.836" x2="322.65" y2="206.052" stroke="#333" stroke-width="0.7"/>
<line x1="320.45" y1="192.836" x2="324.84999999999997" y2="192.836" stroke="#333" stroke-width="0.7"/>
<line x1="320.45" y1="206.052" x2="324.84999999999997" y2="206.052" stroke="#333" stroke-width="0.7"/>
<text x="323.20000000000005" y="191.63600000000002" font-size="8.4" font-weight="bold" font-style="normal" text-anchor="middle" fill="#222" stroke="#222" stroke-width="0.1" letter-spacing="1.2">**</text>
<line x1="349.1" y1="279.3" x2="349.1" y2="283.8" stroke="#333" stroke-width="0.9"/>
<text x="349.1" y="292.3" font-size="6.8" font-weight="bold" font-style="normal" text-anchor="middle" fill="#222" stroke="#222" stroke-width="0.18" >2</text>
<rect x="339.40" y="195.70" width="7.50" height="44.10" fill="#e6e6e6"/>
<rect x="339.40" y="249.60" width="7.50" height="29.70" fill="#e6e6e6"/>
<line x1="339.4" y1="195.29999999999998" x2="339.4" y2="239.8" stroke="#444" stroke-width="0.8"/>
<line x1="339.4" y1="249.6" x2="339.4" y2="279.3" stroke="#444" stroke-width="0.8"/>
<line x1="346.9" y1="195.29999999999998" x2="346.9" y2="239.8" stroke="#444" stroke-width="0.8"/>
<line x1="346.9" y1="249.6" x2="346.9" y2="279.3" stroke="#444" stroke-width="0.8"/>
<line x1="339.4" y1="195.7" x2="346.9" y2="195.7" stroke="#444" stroke-width="0.8"/>
<line x1="343.15" y1="186.33999999999997" x2="343.15" y2="204.26" stroke="#333" stroke-width="0.7"/>
<line x1="340.95" y1="186.33999999999997" x2="345.34999999999997" y2="186.33999999999997" stroke="#333" stroke-width="0.7"/>
<line x1="340.95" y1="204.26" x2="345.34999999999997" y2="204.26" stroke="#333" stroke-width="0.7"/>
<rect x="351.40" y="193.46" width="7.50" height="46.34" fill="#661c33"/>
<rect x="351.40" y="249.60" width="7.50" height="29.70" fill="#661c33"/>
<line x1="351.4" y1="193.06" x2="351.4" y2="239.8" stroke="#3a1020" stroke-width="0.8"/>
<line x1="351.4" y1="249.6" x2="351.4" y2="279.3" stroke="#3a1020" stroke-width="0.8"/>
<line x1="358.9" y1="193.06" x2="358.9" y2="239.8" stroke="#3a1020" stroke-width="0.8"/>
<line x1="358.9" y1="249.6" x2="358.9" y2="279.3" stroke="#3a1020" stroke-width="0.8"/>
<line x1="351.4" y1="193.46" x2="358.9" y2="193.46" stroke="#3a1020" stroke-width="0.8"/>
<line x1="355.15" y1="183.876" x2="355.15" y2="202.24399999999997" stroke="#333" stroke-width="0.7"/>
<line x1="352.95" y1="183.876" x2="357.34999999999997" y2="183.876" stroke="#333" stroke-width="0.7"/>
<line x1="352.95" y1="202.24399999999997" x2="357.34999999999997" y2="202.24399999999997" stroke="#333" stroke-width="0.7"/>
<line x1="381.75" y1="279.3" x2="381.75" y2="283.8" stroke="#333" stroke-width="0.9"/>
<text x="381.75" y="292.3" font-size="6.8" font-weight="bold" font-style="normal" text-anchor="middle" fill="#222" stroke="#222" stroke-width="0.18" >3</text>
<rect x="372.05" y="202.42" width="7.50" height="37.38" fill="#e6e6e6"/>
<rect x="372.05" y="249.60" width="7.50" height="29.70" fill="#e6e6e6"/>
<line x1="372.04999999999995" y1="202.01999999999998" x2="372.04999999999995" y2="239.8" stroke="#444" stroke-width="0.8"/>
<line x1="372.04999999999995" y1="249.6" x2="372.04999999999995" y2="279.3" stroke="#444" stroke-width="0.8"/>
<line x1="379.54999999999995" y1="202.01999999999998" x2="379.54999999999995" y2="239.8" stroke="#444" stroke-width="0.8"/>
<line x1="379.54999999999995" y1="249.6" x2="379.54999999999995" y2="279.3" stroke="#444" stroke-width="0.8"/>
<line x1="372.04999999999995" y1="202.42" x2="379.54999999999995" y2="202.42" stroke="#444" stroke-width="0.8"/>
<line x1="375.79999999999995" y1="196.86800000000002" x2="375.79999999999995" y2="206.27599999999998" stroke="#333" stroke-width="0.7"/>
<line x1="373.59999999999997" y1="196.86800000000002" x2="377.99999999999994" y2="196.86800000000002" stroke="#333" stroke-width="0.7"/>
<line x1="373.59999999999997" y1="206.27599999999998" x2="377.99999999999994" y2="206.27599999999998" stroke="#333" stroke-width="0.7"/>
<rect x="384.05" y="188.98" width="7.50" height="50.82" fill="#661c33"/>
<rect x="384.05" y="249.60" width="7.50" height="29.70" fill="#661c33"/>
<line x1="384.04999999999995" y1="188.57999999999998" x2="384.04999999999995" y2="239.8" stroke="#3a1020" stroke-width="0.8"/>
<line x1="384.04999999999995" y1="249.6" x2="384.04999999999995" y2="279.3" stroke="#3a1020" stroke-width="0.8"/>
<line x1="391.54999999999995" y1="188.57999999999998" x2="391.54999999999995" y2="239.8" stroke="#3a1020" stroke-width="0.8"/>
<line x1="391.54999999999995" y1="249.6" x2="391.54999999999995" y2="279.3" stroke="#3a1020" stroke-width="0.8"/>
<line x1="384.04999999999995" y1="188.98" x2="391.54999999999995" y2="188.98" stroke="#3a1020" stroke-width="0.8"/>
<line x1="387.79999999999995" y1="184.09999999999997" x2="387.79999999999995" y2="193.06" stroke="#333" stroke-width="0.7"/>
<line x1="385.59999999999997" y1="184.09999999999997" x2="389.99999999999994" y2="184.09999999999997" stroke="#333" stroke-width="0.7"/>
<line x1="385.59999999999997" y1="193.06" x2="389.99999999999994" y2="193.06" stroke="#333" stroke-width="0.7"/>
<text x="388.35" y="182.89999999999998" font-size="8.4" font-weight="bold" font-style="normal" text-anchor="middle" fill="#222" stroke="#222" stroke-width="0.1" letter-spacing="1.2">**</text>
<line x1="414.75" y1="279.3" x2="414.75" y2="283.8" stroke="#333" stroke-width="0.9"/>
<text x="414.75" y="292.3" font-size="6.8" font-weight="bold" font-style="normal" text-anchor="middle" fill="#222" stroke="#222" stroke-width="0.18" >4</text>
<rect x="405.05" y="202.42" width="7.50" height="37.38" fill="#e6e6e6"/>
<rect x="405.05" y="249.60" width="7.50" height="29.70" fill="#e6e6e6"/>
<line x1="405.04999999999995" y1="202.01999999999998" x2="405.04999999999995" y2="239.8" stroke="#444" stroke-width="0.8"/>
<line x1="405.04999999999995" y1="249.6" x2="405.04999999999995" y2="279.3" stroke="#444" stroke-width="0.8"/>
<line x1="412.54999999999995" y1="202.01999999999998" x2="412.54999999999995" y2="239.8" stroke="#444" stroke-width="0.8"/>
<line x1="412.54999999999995" y1="249.6" x2="412.54999999999995" y2="279.3" stroke="#444" stroke-width="0.8"/>
<line x1="405.04999999999995" y1="202.42" x2="412.54999999999995" y2="202.42" stroke="#444" stroke-width="0.8"/>
<line x1="408.79999999999995" y1="197.54" x2="408.79999999999995" y2="206.724" stroke="#333" stroke-width="0.7"/>
<line x1="406.59999999999997" y1="197.54" x2="410.99999999999994" y2="197.54" stroke="#333" stroke-width="0.7"/>
<line x1="406.59999999999997" y1="206.724" x2="410.99999999999994" y2="206.724" stroke="#333" stroke-width="0.7"/>
<rect x="417.05" y="186.74" width="7.50" height="53.06" fill="#661c33"/>
<rect x="417.05" y="249.60" width="7.50" height="29.70" fill="#661c33"/>
<line x1="417.04999999999995" y1="186.33999999999997" x2="417.04999999999995" y2="239.8" stroke="#3a1020" stroke-width="0.8"/>
<line x1="417.04999999999995" y1="249.6" x2="417.04999999999995" y2="279.3" stroke="#3a1020" stroke-width="0.8"/>
<line x1="424.54999999999995" y1="186.33999999999997" x2="424.54999999999995" y2="239.8" stroke="#3a1020" stroke-width="0.8"/>
<line x1="424.54999999999995" y1="249.6" x2="424.54999999999995" y2="279.3" stroke="#3a1020" stroke-width="0.8"/>
<line x1="417.04999999999995" y1="186.73999999999998" x2="424.54999999999995" y2="186.73999999999998" stroke="#3a1020" stroke-width="0.8"/>
<line x1="420.79999999999995" y1="179.61999999999998" x2="420.79999999999995" y2="193.28399999999996" stroke="#333" stroke-width="0.7"/>
<line x1="418.59999999999997" y1="179.61999999999998" x2="422.99999999999994" y2="179.61999999999998" stroke="#333" stroke-width="0.7"/>
<line x1="418.59999999999997" y1="193.28399999999996" x2="422.99999999999994" y2="193.28399999999996" stroke="#333" stroke-width="0.7"/>
<text x="421.35" y="178.42" font-size="8.4" font-weight="bold" font-style="normal" text-anchor="middle" fill="#222" stroke="#222" stroke-width="0.1" letter-spacing="1.2">**</text>
<line x1="447.5" y1="279.3" x2="447.5" y2="283.8" stroke="#333" stroke-width="0.9"/>
<text x="447.5" y="292.3" font-size="6.8" font-weight="bold" font-style="normal" text-anchor="middle" fill="#222" stroke="#222" stroke-width="0.18" >5</text>
<rect x="437.80" y="202.42" width="7.50" height="37.38" fill="#e6e6e6"/>
<rect x="437.80" y="249.60" width="7.50" height="29.70" fill="#e6e6e6"/>
<line x1="437.79999999999995" y1="202.01999999999998" x2="437.79999999999995" y2="239.8" stroke="#444" stroke-width="0.8"/>
<line x1="437.79999999999995" y1="249.6" x2="437.79999999999995" y2="279.3" stroke="#444" stroke-width="0.8"/>
<line x1="445.29999999999995" y1="202.01999999999998" x2="445.29999999999995" y2="239.8" stroke="#444" stroke-width="0.8"/>
<line x1="445.29999999999995" y1="249.6" x2="445.29999999999995" y2="279.3" stroke="#444" stroke-width="0.8"/>
<line x1="437.79999999999995" y1="202.42" x2="445.29999999999995" y2="202.42" stroke="#444" stroke-width="0.8"/>
<line x1="441.54999999999995" y1="195.524" x2="441.54999999999995" y2="208.292" stroke="#333" stroke-width="0.7"/>
<line x1="439.34999999999997" y1="195.524" x2="443.74999999999994" y2="195.524" stroke="#333" stroke-width="0.7"/>
<line x1="439.34999999999997" y1="208.292" x2="443.74999999999994" y2="208.292" stroke="#333" stroke-width="0.7"/>
<rect x="449.80" y="182.26" width="7.50" height="57.54" fill="#661c33"/>
<rect x="449.80" y="249.60" width="7.50" height="29.70" fill="#661c33"/>
<line x1="449.79999999999995" y1="181.85999999999999" x2="449.79999999999995" y2="239.8" stroke="#3a1020" stroke-width="0.8"/>
<line x1="449.79999999999995" y1="249.6" x2="449.79999999999995" y2="279.3" stroke="#3a1020" stroke-width="0.8"/>
<line x1="457.29999999999995" y1="181.85999999999999" x2="457.29999999999995" y2="239.8" stroke="#3a1020" stroke-width="0.8"/>
<line x1="457.29999999999995" y1="249.6" x2="457.29999999999995" y2="279.3" stroke="#3a1020" stroke-width="0.8"/>
<line x1="449.79999999999995" y1="182.26" x2="457.29999999999995" y2="182.26" stroke="#3a1020" stroke-width="0.8"/>
<line x1="453.54999999999995" y1="175.364" x2="453.54999999999995" y2="188.13199999999998" stroke="#333" stroke-width="0.7"/>
<line x1="451.34999999999997" y1="175.364" x2="455.74999999999994" y2="175.364" stroke="#333" stroke-width="0.7"/>
<line x1="451.34999999999997" y1="188.13199999999998" x2="455.74999999999994" y2="188.13199999999998" stroke="#333" stroke-width="0.7"/>
<text x="454.1" y="174.16400000000002" font-size="8.4" font-weight="bold" font-style="normal" text-anchor="middle" fill="#222" stroke="#222" stroke-width="0.1" letter-spacing="1.2">**</text>
<line x1="480.25" y1="279.3" x2="480.25" y2="283.8" stroke="#333" stroke-width="0.9"/>
<text x="480.25" y="292.3" font-size="6.8" font-weight="bold" font-style="normal" text-anchor="middle" fill="#222" stroke="#222" stroke-width="0.18" >6</text>
<rect x="470.55" y="197.94" width="7.50" height="41.86" fill="#e6e6e6"/>
<rect x="470.55" y="249.60" width="7.50" height="29.70" fill="#e6e6e6"/>
<line x1="470.54999999999995" y1="197.54" x2="470.54999999999995" y2="239.8" stroke="#444" stroke-width="0.8"/>
<line x1="470.54999999999995" y1="249.6" x2="470.54999999999995" y2="279.3" stroke="#444" stroke-width="0.8"/>
<line x1="478.04999999999995" y1="197.54" x2="478.04999999999995" y2="239.8" stroke="#444" stroke-width="0.8"/>
<line x1="478.04999999999995" y1="249.6" x2="478.04999999999995" y2="279.3" stroke="#444" stroke-width="0.8"/>
<line x1="470.54999999999995" y1="197.94" x2="478.04999999999995" y2="197.94" stroke="#444" stroke-width="0.8"/>
<line x1="474.29999999999995" y1="190.596" x2="474.29999999999995" y2="204.26" stroke="#333" stroke-width="0.7"/>
<line x1="472.09999999999997" y1="190.596" x2="476.49999999999994" y2="190.596" stroke="#333" stroke-width="0.7"/>
<line x1="472.09999999999997" y1="204.26" x2="476.49999999999994" y2="204.26" stroke="#333" stroke-width="0.7"/>
<rect x="482.55" y="186.74" width="7.50" height="53.06" fill="#661c33"/>
<rect x="482.55" y="249.60" width="7.50" height="29.70" fill="#661c33"/>
<line x1="482.54999999999995" y1="186.33999999999997" x2="482.54999999999995" y2="239.8" stroke="#3a1020" stroke-width="0.8"/>
<line x1="482.54999999999995" y1="249.6" x2="482.54999999999995" y2="279.3" stroke="#3a1020" stroke-width="0.8"/>
<line x1="490.04999999999995" y1="186.33999999999997" x2="490.04999999999995" y2="239.8" stroke="#3a1020" stroke-width="0.8"/>
<line x1="490.04999999999995" y1="249.6" x2="490.04999999999995" y2="279.3" stroke="#3a1020" stroke-width="0.8"/>
<line x1="482.54999999999995" y1="186.73999999999998" x2="490.04999999999995" y2="186.73999999999998" stroke="#3a1020" stroke-width="0.8"/>
<line x1="486.29999999999995" y1="177.60399999999998" x2="486.29999999999995" y2="195.07599999999996" stroke="#333" stroke-width="0.7"/>
<line x1="484.09999999999997" y1="177.60399999999998" x2="488.49999999999994" y2="177.60399999999998" stroke="#333" stroke-width="0.7"/>
<line x1="484.09999999999997" y1="195.07599999999996" x2="488.49999999999994" y2="195.07599999999996" stroke="#333" stroke-width="0.7"/>
<text x="486.85" y="176.404" font-size="8.4" font-weight="bold" font-style="normal" text-anchor="middle" fill="#222" stroke="#222" stroke-width="0.1" letter-spacing="1.2">**</text>
<text x="263.5" y="217" font-size="8.7" font-weight="bold" font-style="normal" text-anchor="middle" fill="#222" stroke="#222" stroke-width="0.28" textLength="71.3" lengthAdjust="spacingAndGlyphs" transform="rotate(-90 263.5 217)" >Temperature (°C)</text>
<text x="398.9" y="309.7" font-size="8.5" font-weight="bold" font-style="normal" text-anchor="middle" fill="#222" stroke="#222" stroke-width="0.28" textLength="72.5" lengthAdjust="spacingAndGlyphs" >Time course (dpi)</text>
<rect x="368.10" y="139.20" width="13.00" height="3.40" fill="#e6e6e6" stroke="#333" stroke-width="0.8"/>
<rect x="368.10" y="149.50" width="13.00" height="3.40" fill="#661c33" stroke="#3c1020" stroke-width="0.8"/>
<text x="389.5" y="143.4" font-size="7.8" font-weight="bold" font-style="normal" text-anchor="start" fill="#222" stroke="#222" stroke-width="0.28" textLength="21.2" lengthAdjust="spacingAndGlyphs" >CTRL</text>
<text x="389.5" y="153.4" font-size="7.8" font-weight="bold" font-style="italic" text-anchor="start" fill="#222" stroke="#222" stroke-width="0.28" textLength="42.2" lengthAdjust="spacingAndGlyphs" >35S:NAC61</text>
<text x="524.5" y="89.3" font-size="13.8" font-weight="normal" font-style="normal" text-anchor="start" fill="#1a1a1a" stroke="#1a1a1a" stroke-width="0.15" >E</text>
<line x1="553.0" y1="105.75" x2="553.0" y2="231.75" stroke="#333" stroke-width="1"/>
<line x1="553.0" y1="231.25" x2="777" y2="231.25" stroke="#333" stroke-width="1"/>
<line x1="550.5" y1="231.25" x2="553.0" y2="231.25" stroke="#333" stroke-width="0.8"/>
<text x="547.6" y="233.65" font-size="6.8" font-weight="bold" font-style="normal" text-anchor="end" fill="#222" stroke="#222" stroke-width="0.28" >0</text>
<line x1="550.5" y1="218.75" x2="553.0" y2="218.75" stroke="#333" stroke-width="0.8"/>
<text x="547.6" y="221.15" font-size="6.8" font-weight="bold" font-style="normal" text-anchor="end" fill="#222" stroke="#222" stroke-width="0.28" >2</text>
<line x1="550.5" y1="206.25" x2="553.0" y2="206.25" stroke="#333" stroke-width="0.8"/>
<text x="547.6" y="208.65" font-size="6.8" font-weight="bold" font-style="normal" text-anchor="end" fill="#222" stroke="#222" stroke-width="0.28" >4</text>
<line x1="550.5" y1="193.75" x2="553.0" y2="193.75" stroke="#333" stroke-width="0.8"/>
<text x="547.6" y="196.15" font-size="6.8" font-weight="bold" font-style="normal" text-anchor="end" fill="#222" stroke="#222" stroke-width="0.28" >6</text>
<line x1="550.5" y1="181.25" x2="553.0" y2="181.25" stroke="#333" stroke-width="0.8"/>
<text x="547.6" y="183.65" font-size="6.8" font-weight="bold" font-style="normal" text-anchor="end" fill="#222" stroke="#222" stroke-width="0.28" >8</text>
<line x1="550.5" y1="168.75" x2="553.0" y2="168.75" stroke="#333" stroke-width="0.8"/>
<text x="547.6" y="171.15" font-size="6.8" font-weight="bold" font-style="normal" text-anchor="end" fill="#222" stroke="#222" stroke-width="0.28" >10</text>
<line x1="550.5" y1="156.25" x2="553.0" y2="156.25" stroke="#333" stroke-width="0.8"/>
<text x="547.6" y="158.65" font-size="6.8" font-weight="bold" font-style="normal" text-anchor="end" fill="#222" stroke="#222" stroke-width="0.28" >12</text>
<line x1="550.5" y1="143.75" x2="553.0" y2="143.75" stroke="#333" stroke-width="0.8"/>
<text x="547.6" y="146.15" font-size="6.8" font-weight="bold" font-style="normal" text-anchor="end" fill="#222" stroke="#222" stroke-width="0.28" >14</text>
<line x1="550.5" y1="131.25" x2="553.0" y2="131.25" stroke="#333" stroke-width="0.8"/>
<text x="547.6" y="133.65" font-size="6.8" font-weight="bold" font-style="normal" text-anchor="end" fill="#222" stroke="#222" stroke-width="0.28" >16</text>
<line x1="550.5" y1="118.75" x2="553.0" y2="118.75" stroke="#333" stroke-width="0.8"/>
<text x="547.6" y="121.15" font-size="6.8" font-weight="bold" font-style="normal" text-anchor="end" fill="#222" stroke="#222" stroke-width="0.28" >18</text>
<line x1="550.5" y1="106.25" x2="553.0" y2="106.25" stroke="#333" stroke-width="0.8"/>
<text x="547.6" y="108.65" font-size="6.8" font-weight="bold" font-style="normal" text-anchor="end" fill="#222" stroke="#222" stroke-width="0.28" >20</text>
<line x1="553.0" y1="231.25" x2="553.0" y2="233.75" stroke="#333" stroke-width="0.8"/>
<text x="553.0" y="241.8" font-size="6.8" font-weight="bold" font-style="normal" text-anchor="middle" fill="#222" stroke="#222" stroke-width="0.28" >0</text>
<line x1="571.5" y1="231.25" x2="571.5" y2="233.75" stroke="#333" stroke-width="0.8"/>
<text x="571.5" y="241.8" font-size="6.8" font-weight="bold" font-style="normal" text-anchor="middle" fill="#222" stroke="#222" stroke-width="0.28" >2</text>
<line x1="590.0" y1="231.25" x2="590.0" y2="233.75" stroke="#333" stroke-width="0.8"/>
<text x="590.0" y="241.8" font-size="6.8" font-weight="bold" font-style="normal" text-anchor="middle" fill="#222" stroke="#222" stroke-width="0.28" >4</text>
<line x1="608.5" y1="231.25" x2="608.5" y2="233.75" stroke="#333" stroke-width="0.8"/>
<text x="608.5" y="241.8" font-size="6.8" font-weight="bold" font-style="normal" text-anchor="middle" fill="#222" stroke="#222" stroke-width="0.28" >6</text>
<line x1="627.0" y1="231.25" x2="627.0" y2="233.75" stroke="#333" stroke-width="0.8"/>
<text x="627.0" y="241.8" font-size="6.8" font-weight="bold" font-style="normal" text-anchor="middle" fill="#222" stroke="#222" stroke-width="0.28" >8</text>
<line x1="645.5" y1="231.25" x2="645.5" y2="233.75" stroke="#333" stroke-width="0.8"/>
<text x="645.5" y="241.8" font-size="6.8" font-weight="bold" font-style="normal" text-anchor="middle" fill="#222" stroke="#222" stroke-width="0.28" >10</text>
<line x1="664.0" y1="231.25" x2="664.0" y2="233.75" stroke="#333" stroke-width="0.8"/>
<text x="664.0" y="241.8" font-size="6.8" font-weight="bold" font-style="normal" text-anchor="middle" fill="#222" stroke="#222" stroke-width="0.28" >12</text>
<line x1="682.5" y1="231.25" x2="682.5" y2="233.75" stroke="#333" stroke-width="0.8"/>
<text x="682.5" y="241.8" font-size="6.8" font-weight="bold" font-style="normal" text-anchor="middle" fill="#222" stroke="#222" stroke-width="0.28" >14</text>
<line x1="701.0" y1="231.25" x2="701.0" y2="233.75" stroke="#333" stroke-width="0.8"/>
<text x="701.0" y="241.8" font-size="6.8" font-weight="bold" font-style="normal" text-anchor="middle" fill="#222" stroke="#222" stroke-width="0.28" >16</text>
<line x1="719.5" y1="231.25" x2="719.5" y2="233.75" stroke="#333" stroke-width="0.8"/>
<text x="719.5" y="241.8" font-size="6.8" font-weight="bold" font-style="normal" text-anchor="middle" fill="#222" stroke="#222" stroke-width="0.28" >18</text>
<line x1="738.0" y1="231.25" x2="738.0" y2="233.75" stroke="#333" stroke-width="0.8"/>
<text x="738.0" y="241.8" font-size="6.8" font-weight="bold" font-style="normal" text-anchor="middle" fill="#222" stroke="#222" stroke-width="0.28" >20</text>
<line x1="756.5" y1="231.25" x2="756.5" y2="233.75" stroke="#333" stroke-width="0.8"/>
<text x="756.5" y="241.8" font-size="6.8" font-weight="bold" font-style="normal" text-anchor="middle" fill="#222" stroke="#222" stroke-width="0.28" >22</text>
<line x1="775.0" y1="231.25" x2="775.0" y2="233.75" stroke="#333" stroke-width="0.8"/>
<text x="775.0" y="241.8" font-size="6.8" font-weight="bold" font-style="normal" text-anchor="middle" fill="#222" stroke="#222" stroke-width="0.28" >24</text>
<polyline points="553.00,226.69 562.25,202.00 571.50,188.75 580.75,186.25 590.00,182.50 599.25,180.75 608.50,180.00 617.75,179.50 627.00,179.25 756.50,186.25 765.75,187.00 775.00,187.00" fill="none" stroke="#d4d4d4" stroke-width="1.2"/>
<line x1="571.5" y1="184.375" x2="571.5" y2="193.125" stroke="#555" stroke-width="0.7"/>
<line x1="569.7" y1="184.375" x2="573.3" y2="184.375" stroke="#555" stroke-width="0.7"/>
<line x1="569.7" y1="193.125" x2="573.3" y2="193.125" stroke="#555" stroke-width="0.7"/>
<circle cx="571.50" cy="188.75" r="1.8" fill="#d4d4d4"/>
<line x1="580.75" y1="181.875" x2="580.75" y2="190.625" stroke="#555" stroke-width="0.7"/>
<line x1="578.95" y1="181.875" x2="582.55" y2="181.875" stroke="#555" stroke-width="0.7"/>
<line x1="578.95" y1="190.625" x2="582.55" y2="190.625" stroke="#555" stroke-width="0.7"/>
<circle cx="580.75" cy="186.25" r="1.8" fill="#d4d4d4"/>
<line x1="590.0" y1="177.5" x2="590.0" y2="187.5" stroke="#555" stroke-width="0.7"/>
<line x1="588.2" y1="177.5" x2="591.8" y2="177.5" stroke="#555" stroke-width="0.7"/>
<line x1="588.2" y1="187.5" x2="591.8" y2="187.5" stroke="#555" stroke-width="0.7"/>
<circle cx="590.00" cy="182.50" r="1.8" fill="#d4d4d4"/>
<line x1="599.25" y1="175.125" x2="599.25" y2="186.375" stroke="#555" stroke-width="0.7"/>
<line x1="597.45" y1="175.125" x2="601.05" y2="175.125" stroke="#555" stroke-width="0.7"/>
<line x1="597.45" y1="186.375" x2="601.05" y2="186.375" stroke="#555" stroke-width="0.7"/>
<circle cx="599.25" cy="180.75" r="1.8" fill="#d4d4d4"/>
<line x1="608.5" y1="174.375" x2="608.5" y2="185.625" stroke="#555" stroke-width="0.7"/>
<line x1="606.7" y1="174.375" x2="610.3" y2="174.375" stroke="#555" stroke-width="0.7"/>
<line x1="606.7" y1="185.625" x2="610.3" y2="185.625" stroke="#555" stroke-width="0.7"/>
<circle cx="608.50" cy="180.00" r="1.8" fill="#d4d4d4"/>
<line x1="617.75" y1="173.25" x2="617.75" y2="185.75" stroke="#555" stroke-width="0.7"/>
<line x1="615.95" y1="173.25" x2="619.55" y2="173.25" stroke="#555" stroke-width="0.7"/>
<line x1="615.95" y1="185.75" x2="619.55" y2="185.75" stroke="#555" stroke-width="0.7"/>
<circle cx="617.75" cy="179.50" r="1.8" fill="#d4d4d4"/>
<line x1="627.0" y1="173.0" x2="627.0" y2="185.5" stroke="#555" stroke-width="0.7"/>
<line x1="625.2" y1="173.0" x2="628.8" y2="173.0" stroke="#555" stroke-width="0.7"/>
<line x1="625.2" y1="185.5" x2="628.8" y2="185.5" stroke="#555" stroke-width="0.7"/>
<circle cx="627.00" cy="179.25" r="1.8" fill="#d4d4d4"/>
<line x1="756.5" y1="179.6875" x2="756.5" y2="192.8125" stroke="#555" stroke-width="0.7"/>
<line x1="754.7" y1="179.6875" x2="758.3" y2="179.6875" stroke="#555" stroke-width="0.7"/>
<line x1="754.7" y1="192.8125" x2="758.3" y2="192.8125" stroke="#555" stroke-width="0.7"/>
<circle cx="756.50" cy="186.25" r="1.8" fill="#d4d4d4"/>
<line x1="765.75" y1="181.0625" x2="765.75" y2="192.9375" stroke="#555" stroke-width="0.7"/>
<line x1="763.95" y1="181.0625" x2="767.55" y2="181.0625" stroke="#555" stroke-width="0.7"/>
<line x1="763.95" y1="192.9375" x2="767.55" y2="192.9375" stroke="#555" stroke-width="0.7"/>
<circle cx="765.75" cy="187.00" r="1.8" fill="#d4d4d4"/>
<line x1="775.0" y1="180.125" x2="775.0" y2="193.875" stroke="#555" stroke-width="0.7"/>
<line x1="773.2" y1="180.125" x2="776.8" y2="180.125" stroke="#555" stroke-width="0.7"/>
<line x1="773.2" y1="193.875" x2="776.8" y2="193.875" stroke="#555" stroke-width="0.7"/>
<circle cx="775.00" cy="187.00" r="1.8" fill="#d4d4d4"/>
<polyline points="553.00,226.69 562.25,202.00 571.50,174.25 580.75,164.50 590.00,153.00 599.25,147.00 608.50,141.25 617.75,138.75 627.00,137.00 756.50,123.75 765.75,123.25 775.00,123.25" fill="none" stroke="#5e1a2e" stroke-width="1.1"/>
<circle cx="553.00" cy="226.69" r="1.9" fill="#5e1a2e"/>
<line x1="562.25" y1="198.875" x2="562.25" y2="205.125" stroke="#444" stroke-width="0.7"/>
<line x1="560.45" y1="198.875" x2="564.05" y2="198.875" stroke="#444" stroke-width="0.7"/>
<line x1="560.45" y1="205.125" x2="564.05" y2="205.125" stroke="#444" stroke-width="0.7"/>
<circle cx="562.25" cy="202.00" r="1.9" fill="#5e1a2e"/>
<line x1="571.5" y1="168.0" x2="571.5" y2="180.5" stroke="#444" stroke-width="0.7"/>
<line x1="569.7" y1="168.0" x2="573.3" y2="168.0" stroke="#444" stroke-width="0.7"/>
<line x1="569.7" y1="180.5" x2="573.3" y2="180.5" stroke="#444" stroke-width="0.7"/>
<circle cx="571.50" cy="174.25" r="1.9" fill="#5e1a2e"/>
<line x1="580.75" y1="158.25" x2="580.75" y2="170.75" stroke="#444" stroke-width="0.7"/>
<line x1="578.95" y1="158.25" x2="582.55" y2="158.25" stroke="#444" stroke-width="0.7"/>
<line x1="578.95" y1="170.75" x2="582.55" y2="170.75" stroke="#444" stroke-width="0.7"/>
<circle cx="580.75" cy="164.50" r="1.9" fill="#5e1a2e"/>
<line x1="590.0" y1="146.125" x2="590.0" y2="159.875" stroke="#444" stroke-width="0.7"/>
<line x1="588.2" y1="146.125" x2="591.8" y2="146.125" stroke="#444" stroke-width="0.7"/>
<line x1="588.2" y1="159.875" x2="591.8" y2="159.875" stroke="#444" stroke-width="0.7"/>
<circle cx="590.00" cy="153.00" r="1.9" fill="#5e1a2e"/>
<line x1="599.25" y1="142.0" x2="599.25" y2="152.0" stroke="#444" stroke-width="0.7"/>
<line x1="597.45" y1="142.0" x2="601.05" y2="142.0" stroke="#444" stroke-width="0.7"/>
<line x1="597.45" y1="152.0" x2="601.05" y2="152.0" stroke="#444" stroke-width="0.7"/>
<circle cx="599.25" cy="147.00" r="1.9" fill="#5e1a2e"/>
<line x1="608.5" y1="137.5" x2="608.5" y2="145.0" stroke="#444" stroke-width="0.7"/>
<line x1="606.7" y1="137.5" x2="610.3" y2="137.5" stroke="#444" stroke-width="0.7"/>
<line x1="606.7" y1="145.0" x2="610.3" y2="145.0" stroke="#444" stroke-width="0.7"/>
<circle cx="608.50" cy="141.25" r="1.9" fill="#5e1a2e"/>
<line x1="617.75" y1="135.625" x2="617.75" y2="141.875" stroke="#444" stroke-width="0.7"/>
<line x1="615.95" y1="135.625" x2="619.55" y2="135.625" stroke="#444" stroke-width="0.7"/>
<line x1="615.95" y1="141.875" x2="619.55" y2="141.875" stroke="#444" stroke-width="0.7"/>
<circle cx="617.75" cy="138.75" r="1.9" fill="#5e1a2e"/>
<line x1="627.0" y1="134.5" x2="627.0" y2="139.5" stroke="#444" stroke-width="0.7"/>
<line x1="625.2" y1="134.5" x2="628.8" y2="134.5" stroke="#444" stroke-width="0.7"/>
<line x1="625.2" y1="139.5" x2="628.8" y2="139.5" stroke="#444" stroke-width="0.7"/>
<circle cx="627.00" cy="137.00" r="1.9" fill="#5e1a2e"/>
<line x1="756.5" y1="120.93750000000001" x2="756.5" y2="126.5625" stroke="#444" stroke-width="0.7"/>
<line x1="754.7" y1="120.93750000000001" x2="758.3" y2="120.93750000000001" stroke="#444" stroke-width="0.7"/>
<line x1="754.7" y1="126.5625" x2="758.3" y2="126.5625" stroke="#444" stroke-width="0.7"/>
<circle cx="756.50" cy="123.75" r="1.9" fill="#5e1a2e"/>
<line x1="765.75" y1="120.4375" x2="765.75" y2="126.06249999999999" stroke="#444" stroke-width="0.7"/>
<line x1="763.95" y1="120.4375" x2="767.55" y2="120.4375" stroke="#444" stroke-width="0.7"/>
<line x1="763.95" y1="126.06249999999999" x2="767.55" y2="126.06249999999999" stroke="#444" stroke-width="0.7"/>
<circle cx="765.75" cy="123.25" r="1.9" fill="#5e1a2e"/>
<line x1="775.0" y1="120.4375" x2="775.0" y2="126.06249999999999" stroke="#444" stroke-width="0.7"/>
<line x1="773.2" y1="120.4375" x2="776.8" y2="120.4375" stroke="#444" stroke-width="0.7"/>
<line x1="773.2" y1="126.06249999999999" x2="776.8" y2="126.06249999999999" stroke="#444" stroke-width="0.7"/>
<circle cx="775.00" cy="123.25" r="1.9" fill="#5e1a2e"/>
<text x="530.5" y="167" font-size="8.6" font-weight="bold" font-style="normal" text-anchor="middle" fill="#222" stroke="#222" stroke-width="0.28" textLength="81.3" lengthAdjust="spacingAndGlyphs" transform="rotate(-90 530.5 167)" >Ion leakage (µS/cm)</text>
<text x="671.8" y="255.5" font-size="8.6" font-weight="bold" font-style="normal" text-anchor="middle" fill="#222" stroke="#222" stroke-width="0.28" textLength="65" lengthAdjust="spacingAndGlyphs" >Time course (h)</text>
<line x1="612.2" y1="97.5" x2="626" y2="97.5" stroke="#d4d4d4" stroke-width="1.2"/>
<circle cx="619.7" cy="97.5" r="1.9" fill="#d4d4d4"/>
<text x="627.8" y="100.6" font-size="8.3" font-weight="bold" font-style="normal" text-anchor="start" fill="#222" stroke="#222" stroke-width="0.28" textLength="20.8" lengthAdjust="spacingAndGlyphs" >CTRL</text>
<line x1="658" y1="97.5" x2="672.5" y2="97.5" stroke="#5e1a2e" stroke-width="1.2"/>
<circle cx="666.2" cy="97.5" r="1.9" fill="#5e1a2e"/>
<text x="673.3" y="100.8" font-size="9.6" font-weight="bold" font-style="italic" text-anchor="start" fill="#222" stroke="#222" stroke-width="0.28" textLength="53.7" lengthAdjust="spacingAndGlyphs" >35S:NAC61</text>
<text x="354" y="346.3" font-size="13.8" font-weight="normal" font-style="normal" text-anchor="start" fill="#1a1a1a" stroke="#1a1a1a" stroke-width="0.15" >D</text>
<line x1="410.0" y1="349" x2="410.0" y2="441.6" stroke="#555" stroke-width="1.2"/>
<line x1="410.0" y1="455.2" x2="410.0" y2="484.8" stroke="#555" stroke-width="1.2"/>
<line x1="410.0" y1="484.3" x2="528.3" y2="484.3" stroke="#333" stroke-width="1.2"/>
<line x1="403.8" y1="349.5" x2="410.0" y2="349.5" stroke="#333" stroke-width="1"/>
<text x="401.3" y="353.6" font-size="10" font-weight="bold" font-style="normal" text-anchor="end" fill="#222" stroke="#222" stroke-width="0.28" textLength="15.2" lengthAdjust="spacingAndGlyphs" >1.0</text>
<line x1="403.8" y1="386.6" x2="410.0" y2="386.6" stroke="#333" stroke-width="1"/>
<text x="401.3" y="390.70000000000005" font-size="10" font-weight="bold" font-style="normal" text-anchor="end" fill="#222" stroke="#222" stroke-width="0.28" textLength="15.2" lengthAdjust="spacingAndGlyphs" >0.9</text>
<line x1="403.8" y1="423.7" x2="410.0" y2="423.7" stroke="#333" stroke-width="1"/>
<text x="401.3" y="427.8" font-size="10" font-weight="bold" font-style="normal" text-anchor="end" fill="#222" stroke="#222" stroke-width="0.28" textLength="15.2" lengthAdjust="spacingAndGlyphs" >0.8</text>
<line x1="405.5" y1="454.3" x2="410.0" y2="454.3" stroke="#333" stroke-width="1"/>
<text x="400.3" y="457.0" font-size="7.6" font-weight="bold" font-style="normal" text-anchor="end" fill="#222" stroke="#222" stroke-width="0.28" textLength="12.5" lengthAdjust="spacingAndGlyphs" >0.4</text>
<line x1="405.5" y1="469.3" x2="410.0" y2="469.3" stroke="#333" stroke-width="1"/>
<text x="400.3" y="472.0" font-size="7.6" font-weight="bold" font-style="normal" text-anchor="end" fill="#222" stroke="#222" stroke-width="0.28" textLength="12.5" lengthAdjust="spacingAndGlyphs" >0.2</text>
<line x1="405.5" y1="484.3" x2="410.0" y2="484.3" stroke="#333" stroke-width="1"/>
<text x="400.3" y="487.0" font-size="7.6" font-weight="bold" font-style="normal" text-anchor="end" fill="#222" stroke="#222" stroke-width="0.28" textLength="12.5" lengthAdjust="spacingAndGlyphs" >0.0</text>
<line x1="405.3" y1="437.9" x2="414.5" y2="446.6" stroke="#222" stroke-width="1.1"/>
<line x1="405.3" y1="450.2" x2="414.5" y2="458.8" stroke="#222" stroke-width="1.1"/>
<line x1="443.75" y1="484.3" x2="443.75" y2="491.3" stroke="#333" stroke-width="1.1"/>
<line x1="494" y1="484.3" x2="494" y2="491.3" stroke="#333" stroke-width="1.1"/>
<text x="443.3" y="503.3" font-size="9.2" font-weight="bold" font-style="normal" text-anchor="middle" fill="#222" stroke="#222" stroke-width="0.28" textLength="24.6" lengthAdjust="spacingAndGlyphs" >CTRL</text>
<text x="494.6" y="503.3" font-size="8.8" font-weight="bold" font-style="italic" text-anchor="middle" fill="#222" stroke="#222" stroke-width="0.28" textLength="47.4" lengthAdjust="spacingAndGlyphs" >35S:NAC61</text>
<text x="369.6" y="418" font-size="8.7" font-weight="normal" font-style="normal" text-anchor="middle" fill="#222" stroke="#222" stroke-width="0.3" transform="rotate(-90 369.6 418)" >RWC (%)</text>
<line x1="443.75" y1="402.5" x2="443.75" y2="405" stroke="#222" stroke-width="1"/>
<line x1="443.75" y1="420.5" x2="443.75" y2="429.5" stroke="#222" stroke-width="1"/>
<line x1="435.25" y1="402.5" x2="452.25" y2="402.5" stroke="#222" stroke-width="1"/>
<line x1="435.25" y1="429.5" x2="452.25" y2="429.5" stroke="#222" stroke-width="1"/>
<rect x="427.50" y="405.00" width="33.00" height="15.50" fill="#e6e6e6" stroke="#222" stroke-width="1.1"/>
<line x1="427.5" y1="418.75" x2="460.5" y2="418.75" stroke="#222" stroke-width="1.1"/>
<circle cx="443.75" cy="403" r="1.35" fill="#111"/>
<circle cx="446.25" cy="405" r="1.35" fill="#111"/>
<circle cx="443.75" cy="410.75" r="1.35" fill="#111"/>
<circle cx="440.5" cy="418.75" r="1.35" fill="#111"/>
<circle cx="446.25" cy="418.75" r="1.35" fill="#111"/>
<circle cx="443.75" cy="421.25" r="1.35" fill="#111"/>
<circle cx="443.75" cy="429.5" r="1.35" fill="#111"/>
<line x1="494" y1="379.25" x2="494" y2="386.25" stroke="#222" stroke-width="1"/>
<line x1="494" y1="397.5" x2="494" y2="399.5" stroke="#222" stroke-width="1"/>
<line x1="486.0" y1="379.25" x2="502.0" y2="379.25" stroke="#222" stroke-width="1"/>
<line x1="486.0" y1="399.5" x2="502.0" y2="399.5" stroke="#222" stroke-width="1"/>
<rect x="477.50" y="386.25" width="33.25" height="11.25" fill="#661c33" stroke="#222" stroke-width="1.1"/>
<line x1="477.5" y1="390.75" x2="510.75" y2="390.75" stroke="#222" stroke-width="1.1"/>
<circle cx="494" cy="379.25" r="1.35" fill="#111"/>
<circle cx="491.5" cy="386.25" r="1.35" fill="#111"/>
<circle cx="494" cy="386.75" r="1.35" fill="#111"/>
<circle cx="491.5" cy="390.75" r="1.35" fill="#111"/>
<circle cx="496.5" cy="390.75" r="1.35" fill="#111"/>
<circle cx="494" cy="395" r="1.35" fill="#111"/>
<circle cx="491.5" cy="398.75" r="1.35" fill="#111"/>
<circle cx="494" cy="400" r="1.35" fill="#111"/>
<text x="494.8" y="377.2" font-size="11.5" font-weight="bold" font-style="normal" text-anchor="middle" fill="#222" stroke="#222" stroke-width="0.3" letter-spacing="1">**</text>
<text x="558" y="345.8" font-size="13.8" font-weight="normal" font-style="normal" text-anchor="start" fill="#1a1a1a" stroke="#1a1a1a" stroke-width="0.15" >F</text>
<line x1="639.0" y1="341.2" x2="639.0" y2="483.2" stroke="#333" stroke-width="1"/>
<line x1="632" y1="482.7" x2="763" y2="482.7" stroke="#333" stroke-width="1"/>
<line x1="632.5" y1="482.7" x2="639.0" y2="482.7" stroke="#333" stroke-width="1"/>
<text x="630.3" y="486.3" font-size="10" font-weight="bold" font-style="normal" text-anchor="end" fill="#222" stroke="#222" stroke-width="0.28" >0</text>
<line x1="632.5" y1="454.5" x2="639.0" y2="454.5" stroke="#333" stroke-width="1"/>
<text x="630.3" y="458.1" font-size="10" font-weight="bold" font-style="normal" text-anchor="end" fill="#222" stroke="#222" stroke-width="0.28" >1</text>
<line x1="632.5" y1="426.3" x2="639.0" y2="426.3" stroke="#333" stroke-width="1"/>
<text x="630.3" y="429.90000000000003" font-size="10" font-weight="bold" font-style="normal" text-anchor="end" fill="#222" stroke="#222" stroke-width="0.28" >2</text>
<line x1="632.5" y1="398.1" x2="639.0" y2="398.1" stroke="#333" stroke-width="1"/>
<text x="630.3" y="401.70000000000005" font-size="10" font-weight="bold" font-style="normal" text-anchor="end" fill="#222" stroke="#222" stroke-width="0.28" >3</text>
<line x1="632.5" y1="369.9" x2="639.0" y2="369.9" stroke="#333" stroke-width="1"/>
<text x="630.3" y="373.5" font-size="10" font-weight="bold" font-style="normal" text-anchor="end" fill="#222" stroke="#222" stroke-width="0.28" >4</text>
<line x1="632.5" y1="341.7" x2="639.0" y2="341.7" stroke="#333" stroke-width="1"/>
<text x="630.3" y="345.3" font-size="10" font-weight="bold" font-style="normal" text-anchor="end" fill="#222" stroke="#222" stroke-width="0.28" >5</text>
<line x1="674.5" y1="482.7" x2="674.5" y2="489" stroke="#333" stroke-width="1"/>
<line x1="727.3" y1="482.7" x2="727.3" y2="489" stroke="#333" stroke-width="1"/>
<text x="674.3" y="502.9" font-size="9.3" font-weight="bold" font-style="normal" text-anchor="middle" fill="#222" stroke="#222" stroke-width="0.28" textLength="24.8" lengthAdjust="spacingAndGlyphs" >CTRL</text>
<text x="726.6" y="502.9" font-size="8.8" font-weight="bold" font-style="italic" text-anchor="middle" fill="#222" stroke="#222" stroke-width="0.28" textLength="47.4" lengthAdjust="spacingAndGlyphs" >35S:NAC61</text>
<text x="599.8" y="414" font-size="8.8" font-weight="bold" font-style="normal" text-anchor="middle" fill="#222" stroke="#222" stroke-width="0.28" textLength="113" lengthAdjust="spacingAndGlyphs" transform="rotate(-90 599.8 414)" >DAB relative intensity (AU)</text>
<line x1="674.5" y1="441.2" x2="674.5" y2="447.5" stroke="#222" stroke-width="1"/>
<line x1="674.5" y1="472.5" x2="674.5" y2="475.4" stroke="#222" stroke-width="1"/>
<line x1="666.25" y1="441.2" x2="682.75" y2="441.2" stroke="#222" stroke-width="1"/>
<line x1="666.25" y1="475.4" x2="682.75" y2="475.4" stroke="#222" stroke-width="1"/>
<rect x="657.00" y="447.50" width="34.50" height="25.00" fill="#e6e6e6" stroke="#222" stroke-width="1.1"/>
<line x1="657" y1="456.4" x2="691.5" y2="456.4" stroke="#222" stroke-width="1.1"/>
<circle cx="674.5" cy="441.2" r="1.35" fill="#111"/>
<circle cx="674.5" cy="452.2" r="1.35" fill="#111"/>
<circle cx="674.5" cy="456.5" r="1.35" fill="#111"/>
<circle cx="674.5" cy="470.6" r="1.35" fill="#111"/>
<circle cx="674.5" cy="472.5" r="1.35" fill="#111"/>
<circle cx="674.5" cy="475.4" r="1.35" fill="#111"/>
<line x1="727" y1="364.25" x2="727" y2="374.5" stroke="#222" stroke-width="1"/>
<line x1="727" y1="414.5" x2="727" y2="419" stroke="#222" stroke-width="1"/>
<line x1="718.65" y1="364.25" x2="735.35" y2="364.25" stroke="#222" stroke-width="1"/>
<line x1="718.65" y1="419" x2="735.35" y2="419" stroke="#222" stroke-width="1"/>
<rect x="710.00" y="374.50" width="34.50" height="40.00" fill="#661c33" stroke="#222" stroke-width="1.1"/>
<line x1="710" y1="393.25" x2="744.5" y2="393.25" stroke="#222" stroke-width="1.1"/>
<circle cx="727" cy="364.25" r="1.35" fill="#111"/>
<circle cx="727" cy="377.5" r="1.35" fill="#111"/>
<circle cx="727" cy="381.75" r="1.35" fill="#111"/>
<circle cx="727" cy="405.5" r="1.35" fill="#111"/>
<circle cx="727" cy="413" r="1.35" fill="#111"/>
<circle cx="727" cy="419" r="1.35" fill="#111"/>
<text x="727.2" y="362.9" font-size="11.5" font-weight="bold" font-style="normal" text-anchor="middle" fill="#222" stroke="#222" stroke-width="0.3" letter-spacing="1">**</text>
</svg>
</body></html>
